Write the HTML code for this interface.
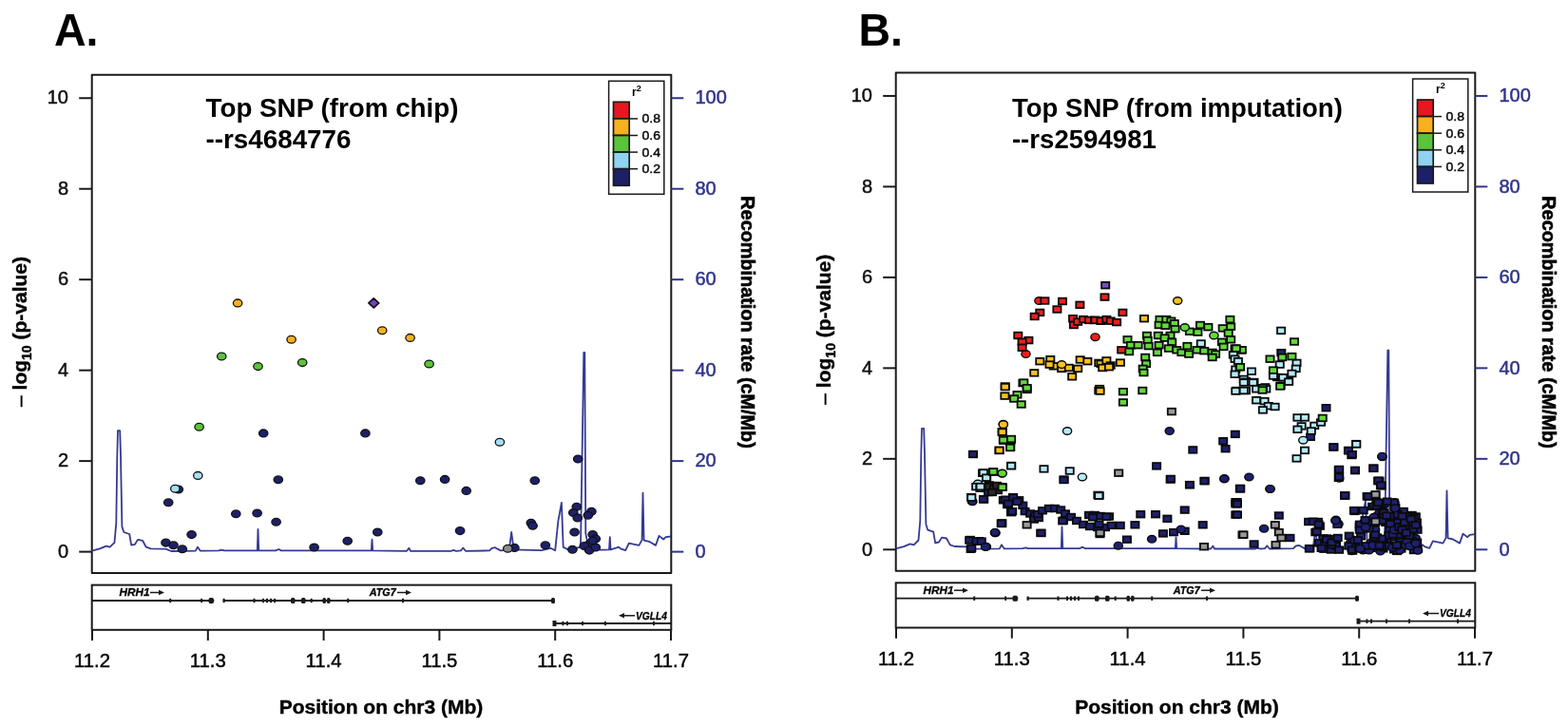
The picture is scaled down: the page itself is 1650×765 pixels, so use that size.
<!DOCTYPE html>
<html><head><meta charset="utf-8"><title>LocusZoom plots</title>
<style>
html,body{margin:0;padding:0;background:#fff;}
body{width:1650px;height:765px;overflow:hidden;}
svg{display:block;font-family:"Liberation Sans", Arial, sans-serif;}
</style></head>
<body>
<svg width="1650" height="765" viewBox="0 0 1650 765">
<rect width="1650" height="765" fill="#fff"/>
<text x="57.0" y="47.8" font-size="48.3" font-weight="bold" textLength="46.5" lengthAdjust="spacingAndGlyphs">A.</text>
<rect x="96.7" y="78.8" width="609.5999999999999" height="524.2" fill="none" stroke="#1a1a1a" stroke-width="2" stroke-linejoin="round"/>
<line x1="83.2" y1="580.6" x2="96.7" y2="580.6" stroke="#1a1a1a" stroke-width="2"/>
<text x="72.0" y="586.8000000000001" font-size="20" text-anchor="end" fill="#111" stroke="#111" stroke-width="0.5">0</text>
<line x1="83.2" y1="485.13" x2="96.7" y2="485.13" stroke="#1a1a1a" stroke-width="2"/>
<text x="72.0" y="491.33" font-size="20" text-anchor="end" fill="#111" stroke="#111" stroke-width="0.5">2</text>
<line x1="83.2" y1="389.66" x2="96.7" y2="389.66" stroke="#1a1a1a" stroke-width="2"/>
<text x="72.0" y="395.86" font-size="20" text-anchor="end" fill="#111" stroke="#111" stroke-width="0.5">4</text>
<line x1="83.2" y1="294.19000000000005" x2="96.7" y2="294.19000000000005" stroke="#1a1a1a" stroke-width="2"/>
<text x="72.0" y="300.39000000000004" font-size="20" text-anchor="end" fill="#111" stroke="#111" stroke-width="0.5">6</text>
<line x1="83.2" y1="198.72000000000003" x2="96.7" y2="198.72000000000003" stroke="#1a1a1a" stroke-width="2"/>
<text x="72.0" y="204.92000000000002" font-size="20" text-anchor="end" fill="#111" stroke="#111" stroke-width="0.5">8</text>
<line x1="83.2" y1="103.25" x2="96.7" y2="103.25" stroke="#1a1a1a" stroke-width="2"/>
<text x="72.0" y="109.45" font-size="20" text-anchor="end" fill="#111" stroke="#111" stroke-width="0.5">10</text>
<line x1="706.3" y1="580.6" x2="719.3" y2="580.6" stroke="#30348a" stroke-width="2"/>
<text x="731.5" y="586.8000000000001" font-size="20" fill="#30348a" stroke="#30348a" stroke-width="0.5">0</text>
<line x1="706.3" y1="485.13" x2="719.3" y2="485.13" stroke="#30348a" stroke-width="2"/>
<text x="731.5" y="491.33" font-size="20" fill="#30348a" stroke="#30348a" stroke-width="0.5">20</text>
<line x1="706.3" y1="389.66" x2="719.3" y2="389.66" stroke="#30348a" stroke-width="2"/>
<text x="731.5" y="395.86" font-size="20" fill="#30348a" stroke="#30348a" stroke-width="0.5">40</text>
<line x1="706.3" y1="294.19000000000005" x2="719.3" y2="294.19000000000005" stroke="#30348a" stroke-width="2"/>
<text x="731.5" y="300.39000000000004" font-size="20" fill="#30348a" stroke="#30348a" stroke-width="0.5">60</text>
<line x1="706.3" y1="198.72000000000003" x2="719.3" y2="198.72000000000003" stroke="#30348a" stroke-width="2"/>
<text x="731.5" y="204.92000000000002" font-size="20" fill="#30348a" stroke="#30348a" stroke-width="0.5">80</text>
<line x1="706.3" y1="103.25" x2="719.3" y2="103.25" stroke="#30348a" stroke-width="2"/>
<text x="731.5" y="109.45" font-size="20" fill="#30348a" stroke="#30348a" stroke-width="0.5">100</text>
<text x="216.5" y="122.7" font-size="27.5" font-weight="bold" textLength="266" lengthAdjust="spacingAndGlyphs">Top SNP (from chip)</text>
<text x="216.5" y="155.5" font-size="27.5" font-weight="bold" textLength="153" lengthAdjust="spacingAndGlyphs">--rs4684776</text>
<rect x="640.6" y="85.3" width="58.19999999999993" height="119.00000000000001" fill="#fff" stroke="#1a1a1a" stroke-width="1.5"/>
<text x="665" y="100.5" font-size="12" font-weight="bold">r<tspan font-size="9" dy="-5">2</tspan></text>
<rect x="645.5" y="107.3" width="16.7" height="17.6" fill="#e8161e" stroke="#1a1a1a" stroke-width="1.7"/>
<rect x="645.5" y="124.9" width="16.7" height="17.6" fill="#f8b020" stroke="#1a1a1a" stroke-width="1.7"/>
<rect x="645.5" y="142.5" width="16.7" height="17.6" fill="#5ac43a" stroke="#1a1a1a" stroke-width="1.7"/>
<rect x="645.5" y="160.1" width="16.7" height="17.6" fill="#8fd3f2" stroke="#1a1a1a" stroke-width="1.7"/>
<rect x="645.5" y="177.7" width="16.7" height="17.6" fill="#1c2068" stroke="#1a1a1a" stroke-width="1.7"/>
<line x1="662.2" y1="124.9" x2="671" y2="124.9" stroke="#1a1a1a" stroke-width="1.5"/>
<text x="675.5" y="129.4" font-size="12.5" textLength="19.5" lengthAdjust="spacingAndGlyphs" stroke="#111" stroke-width="0.45">0.8</text>
<line x1="662.2" y1="142.5" x2="671" y2="142.5" stroke="#1a1a1a" stroke-width="1.5"/>
<text x="675.5" y="147.0" font-size="12.5" textLength="19.5" lengthAdjust="spacingAndGlyphs" stroke="#111" stroke-width="0.45">0.6</text>
<line x1="662.2" y1="160.1" x2="671" y2="160.1" stroke="#1a1a1a" stroke-width="1.5"/>
<text x="675.5" y="164.6" font-size="12.5" textLength="19.5" lengthAdjust="spacingAndGlyphs" stroke="#111" stroke-width="0.45">0.4</text>
<line x1="662.2" y1="177.7" x2="671" y2="177.7" stroke="#1a1a1a" stroke-width="1.5"/>
<text x="675.5" y="182.2" font-size="12.5" textLength="19.5" lengthAdjust="spacingAndGlyphs" stroke="#111" stroke-width="0.45">0.2</text>
<text transform="translate(27.5,349) rotate(-90)" text-anchor="middle" font-size="21" font-weight="bold" stroke="#000" stroke-width="0.4"><tspan font-weight="normal">– </tspan>log<tspan font-size="14" dy="5">10</tspan><tspan dy="-5"> (p-value)</tspan></text>
<text transform="translate(779.5,206.3) rotate(90)" font-size="20" font-weight="bold" stroke="#000" stroke-width="0.6" textLength="265.5" lengthAdjust="spacingAndGlyphs">Recombination rate (cM/Mb)</text>
<line x1="97.0" y1="662.8" x2="97.0" y2="674" stroke="#1a1a1a" stroke-width="2"/>
<text x="78.0" y="702" font-size="20" textLength="38" lengthAdjust="spacingAndGlyphs" stroke="#111" stroke-width="0.5">11.2</text>
<line x1="218.79999999999956" y1="662.8" x2="218.79999999999956" y2="674" stroke="#1a1a1a" stroke-width="2"/>
<text x="199.79999999999956" y="702" font-size="20" textLength="38" lengthAdjust="spacingAndGlyphs" stroke="#111" stroke-width="0.5">11.3</text>
<line x1="340.5999999999991" y1="662.8" x2="340.5999999999991" y2="674" stroke="#1a1a1a" stroke-width="2"/>
<text x="321.5999999999991" y="702" font-size="20" textLength="38" lengthAdjust="spacingAndGlyphs" stroke="#111" stroke-width="0.5">11.4</text>
<line x1="462.4000000000009" y1="662.8" x2="462.4000000000009" y2="674" stroke="#1a1a1a" stroke-width="2"/>
<text x="443.4000000000009" y="702" font-size="20" textLength="38" lengthAdjust="spacingAndGlyphs" stroke="#111" stroke-width="0.5">11.5</text>
<line x1="584.2000000000005" y1="662.8" x2="584.2000000000005" y2="674" stroke="#1a1a1a" stroke-width="2"/>
<text x="565.2000000000005" y="702" font-size="20" textLength="38" lengthAdjust="spacingAndGlyphs" stroke="#111" stroke-width="0.5">11.6</text>
<line x1="706.0" y1="662.8" x2="706.0" y2="674" stroke="#1a1a1a" stroke-width="2"/>
<text x="687.0" y="702" font-size="20" textLength="38" lengthAdjust="spacingAndGlyphs" stroke="#111" stroke-width="0.5">11.7</text>
<text x="401" y="750.5" font-size="21" font-weight="bold" stroke="#000" stroke-width="0.4" text-anchor="middle">Position on chr3 (Mb)</text>
<rect x="96.7" y="615.6" width="609.5999999999999" height="47.19999999999993" fill="none" stroke="#1a1a1a" stroke-width="2"/>
<line x1="96.7" y1="632" x2="225.3" y2="632" stroke="#1a1a1a" stroke-width="1.8"/>
<line x1="234.7" y1="632" x2="582" y2="632" stroke="#1a1a1a" stroke-width="1.8"/>
<rect x="178.2" y="629.8" width="2" height="4.4" fill="#1a1a1a"/>
<rect x="211.1" y="629.8" width="2" height="4.4" fill="#1a1a1a"/>
<rect x="234.6" y="629.8" width="2" height="4.4" fill="#1a1a1a"/>
<rect x="266.5" y="629.8" width="2" height="4.4" fill="#1a1a1a"/>
<rect x="276" y="629.8" width="2" height="4.4" fill="#1a1a1a"/>
<rect x="280" y="629.8" width="2" height="4.4" fill="#1a1a1a"/>
<rect x="284" y="629.8" width="2" height="4.4" fill="#1a1a1a"/>
<rect x="288" y="629.8" width="2" height="4.4" fill="#1a1a1a"/>
<rect x="326.7" y="629.8" width="2" height="4.4" fill="#1a1a1a"/>
<rect x="365.2" y="629.8" width="2" height="4.4" fill="#1a1a1a"/>
<rect x="423" y="629.8" width="2" height="4.4" fill="#1a1a1a"/>
<rect x="219.6" y="629" width="5.3" height="6" rx="1.5" fill="#1a1a1a"/>
<rect x="306" y="629" width="4.5" height="6" rx="1.5" fill="#1a1a1a"/>
<rect x="317" y="629" width="4.5" height="6" rx="1.5" fill="#1a1a1a"/>
<rect x="339.5" y="629" width="3.5" height="6" rx="1.5" fill="#1a1a1a"/>
<rect x="344" y="629" width="3.5" height="6" rx="1.5" fill="#1a1a1a"/>
<rect x="580" y="629" width="4" height="6" rx="1.5" fill="#1a1a1a"/>
<line x1="582" y1="656" x2="706.3" y2="656" stroke="#1a1a1a" stroke-width="1.8"/>
<rect x="581.5" y="653" width="4" height="6" fill="#1a1a1a"/>
<rect x="591.4" y="653.8" width="2" height="4.4" fill="#1a1a1a"/>
<rect x="596" y="653.8" width="2" height="4.4" fill="#1a1a1a"/>
<rect x="612" y="653.8" width="2" height="4.4" fill="#1a1a1a"/>
<rect x="636" y="653.8" width="2" height="4.4" fill="#1a1a1a"/>
<rect x="687" y="653.8" width="2" height="4.4" fill="#1a1a1a"/>
<text x="125.5" y="627.3" font-size="10" font-weight="bold" font-style="italic" stroke="#111" stroke-width="0.3" textLength="32" lengthAdjust="spacingAndGlyphs">HRH1</text>
<path d="M158,623.5 h11" stroke="#1a1a1a" stroke-width="1.5"/><path d="M167,620.8 l6,2.7 l-6,2.7z" fill="#1a1a1a"/>
<text x="388.7" y="627.3" font-size="10" font-weight="bold" font-style="italic" stroke="#111" stroke-width="0.3" textLength="28" lengthAdjust="spacingAndGlyphs">ATG7</text>
<path d="M418,623.5 h11" stroke="#1a1a1a" stroke-width="1.5"/><path d="M427,620.8 l6,2.7 l-6,2.7z" fill="#1a1a1a"/>
<path d="M657,647.8 h11" stroke="#1a1a1a" stroke-width="1.5"/><path d="M657,645.1 l-6,2.7 l6,2.7z" fill="#1a1a1a"/>
<text x="669" y="651.5" font-size="10" font-weight="bold" font-style="italic" stroke="#111" stroke-width="0.3" textLength="33" lengthAdjust="spacingAndGlyphs">VGLL4</text>
<path d="M96.5,579.2 L105.0,577.0 L111.7,574.3 L115.6,575.3 L120.5,570.4 L122.3,549.8 L123.3,480.0 L124.0,452.7 L126.2,452.7 L127.0,479.0 L128.4,553.7 L130.3,559.6 L136.2,561.6 L138.2,573.3 L142.0,572.4 L145.0,567.5 L150.0,568.4 L153.8,575.3 L158.7,576.9 L174.4,577.3 L180.3,579.6 L205.8,579.2 L207.9,575.2 L210.7,579.2 L230.0,579.0 L233.3,578.2 L236.0,579.0 L270.8,579.0 L271.5,556.4 L272.3,579.0 L290.0,579.0 L293.3,577.6 L296.0,579.0 L390.8,579.0 L391.5,567.3 L392.2,579.0 L428.0,579.4 L430.3,576.4 L432.0,579.4 L475.0,579.4 L477.0,578.5 L480.0,579.4 L485.0,579.0 L487.3,576.1 L490.0,579.4 L515.0,579.0 L517.6,576.4 L521.2,575.8 L524.0,577.5 L527.0,579.0 L535.8,578.0 L538.2,559.4 L540.6,578.0 L569.7,578.8 L579.4,576.4 L584.2,578.8 L587.3,548.5 L590.9,528.5 L592.7,575.2 L597.0,577.6 L605.0,577.0 L611.0,575.0 L614.3,370.5 L615.3,370.5 L616.3,561.0 L618.5,572.0 L622.0,577.0 L632.4,578.2 L641.0,578.0 L641.8,564.7 L642.6,578.0 L651.2,575.3 L653.0,577.0 L658.2,578.8 L661.8,571.2 L672.4,573.5 L675.5,568.0 L676.5,518.2 L677.6,568.2 L683.0,569.4 L690.0,573.5 L693.5,563.5 L698.2,567.1 L700.6,564.7 L706.0,564.1" transform="translate(0,0.4)" fill="none" stroke="#343a92" stroke-width="1.8" stroke-linejoin="round"/>
<ellipse cx="250.1" cy="318.9" rx="4.7" ry="3.9" fill="#f8b020" stroke="#111" stroke-width="1.3"/>
<ellipse cx="306.6" cy="357.2" rx="4.7" ry="3.9" fill="#f8b020" stroke="#111" stroke-width="1.3"/>
<ellipse cx="402.2" cy="347.8" rx="4.7" ry="3.9" fill="#f8b020" stroke="#111" stroke-width="1.3"/>
<ellipse cx="431.6" cy="355.4" rx="4.7" ry="3.9" fill="#f8b020" stroke="#111" stroke-width="1.3"/>
<ellipse cx="233.2" cy="375.0" rx="4.7" ry="3.9" fill="#5ac43a" stroke="#111" stroke-width="1.3"/>
<ellipse cx="271.5" cy="385.6" rx="4.7" ry="3.9" fill="#5ac43a" stroke="#111" stroke-width="1.3"/>
<ellipse cx="318.2" cy="381.6" rx="4.7" ry="3.9" fill="#5ac43a" stroke="#111" stroke-width="1.3"/>
<ellipse cx="451.6" cy="383.0" rx="4.7" ry="3.9" fill="#5ac43a" stroke="#111" stroke-width="1.3"/>
<ellipse cx="209.6" cy="449.2" rx="4.7" ry="3.9" fill="#5ac43a" stroke="#111" stroke-width="1.3"/>
<ellipse cx="208.3" cy="500.4" rx="4.7" ry="3.9" fill="#a4e0f4" stroke="#111" stroke-width="1.3"/>
<ellipse cx="525.9" cy="465.2" rx="4.7" ry="3.9" fill="#a4e0f4" stroke="#111" stroke-width="1.3"/>
<ellipse cx="277.2" cy="455.9" rx="4.7" ry="3.9" fill="#1c2068" stroke="#111" stroke-width="1.3"/>
<ellipse cx="384.4" cy="455.9" rx="4.7" ry="3.9" fill="#1c2068" stroke="#111" stroke-width="1.3"/>
<ellipse cx="292.8" cy="504.8" rx="4.7" ry="3.9" fill="#1c2068" stroke="#111" stroke-width="1.3"/>
<ellipse cx="187.8" cy="515.0" rx="4.7" ry="3.9" fill="#1c2068" stroke="#111" stroke-width="1.3"/>
<ellipse cx="177.2" cy="528.8" rx="4.7" ry="3.9" fill="#1c2068" stroke="#111" stroke-width="1.3"/>
<ellipse cx="248.3" cy="540.8" rx="4.7" ry="3.9" fill="#1c2068" stroke="#111" stroke-width="1.3"/>
<ellipse cx="270.6" cy="540.0" rx="4.7" ry="3.9" fill="#1c2068" stroke="#111" stroke-width="1.3"/>
<ellipse cx="290.6" cy="549.3" rx="4.7" ry="3.9" fill="#1c2068" stroke="#111" stroke-width="1.3"/>
<ellipse cx="201.6" cy="562.6" rx="4.7" ry="3.9" fill="#1c2068" stroke="#111" stroke-width="1.3"/>
<ellipse cx="397.3" cy="560.0" rx="4.7" ry="3.9" fill="#1c2068" stroke="#111" stroke-width="1.3"/>
<ellipse cx="174.5" cy="571.1" rx="4.7" ry="3.9" fill="#1c2068" stroke="#111" stroke-width="1.3"/>
<ellipse cx="182.5" cy="573.8" rx="4.7" ry="3.9" fill="#1c2068" stroke="#111" stroke-width="1.3"/>
<ellipse cx="191.8" cy="577.8" rx="4.7" ry="3.9" fill="#1c2068" stroke="#111" stroke-width="1.3"/>
<ellipse cx="330.6" cy="576.0" rx="4.7" ry="3.9" fill="#1c2068" stroke="#111" stroke-width="1.3"/>
<ellipse cx="365.7" cy="569.3" rx="4.7" ry="3.9" fill="#1c2068" stroke="#111" stroke-width="1.3"/>
<ellipse cx="608.2" cy="483.0" rx="4.7" ry="3.9" fill="#1c2068" stroke="#111" stroke-width="1.3"/>
<ellipse cx="442.3" cy="505.7" rx="4.7" ry="3.9" fill="#1c2068" stroke="#111" stroke-width="1.3"/>
<ellipse cx="468.1" cy="504.4" rx="4.7" ry="3.9" fill="#1c2068" stroke="#111" stroke-width="1.3"/>
<ellipse cx="490.7" cy="516.4" rx="4.7" ry="3.9" fill="#1c2068" stroke="#111" stroke-width="1.3"/>
<ellipse cx="562.8" cy="505.7" rx="4.7" ry="3.9" fill="#1c2068" stroke="#111" stroke-width="1.3"/>
<ellipse cx="484.1" cy="558.6" rx="4.7" ry="3.9" fill="#1c2068" stroke="#111" stroke-width="1.3"/>
<ellipse cx="558.8" cy="550.2" rx="4.7" ry="3.9" fill="#1c2068" stroke="#111" stroke-width="1.3"/>
<ellipse cx="560.6" cy="553.3" rx="4.7" ry="3.9" fill="#1c2068" stroke="#111" stroke-width="1.3"/>
<ellipse cx="541.4" cy="576.4" rx="4.7" ry="3.9" fill="#1c2068" stroke="#111" stroke-width="1.3"/>
<ellipse cx="573.9" cy="573.8" rx="4.7" ry="3.9" fill="#1c2068" stroke="#111" stroke-width="1.3"/>
<ellipse cx="606.8" cy="533.3" rx="4.7" ry="3.9" fill="#1c2068" stroke="#111" stroke-width="1.3"/>
<ellipse cx="603.3" cy="539.5" rx="4.7" ry="3.9" fill="#1c2068" stroke="#111" stroke-width="1.3"/>
<ellipse cx="607.7" cy="544.9" rx="4.7" ry="3.9" fill="#1c2068" stroke="#111" stroke-width="1.3"/>
<ellipse cx="622.4" cy="538.2" rx="4.7" ry="3.9" fill="#1c2068" stroke="#111" stroke-width="1.3"/>
<ellipse cx="618.8" cy="542.2" rx="4.7" ry="3.9" fill="#1c2068" stroke="#111" stroke-width="1.3"/>
<ellipse cx="604.6" cy="560.0" rx="4.7" ry="3.9" fill="#1c2068" stroke="#111" stroke-width="1.3"/>
<ellipse cx="623.7" cy="562.6" rx="4.7" ry="3.9" fill="#1c2068" stroke="#111" stroke-width="1.3"/>
<ellipse cx="626.8" cy="567.1" rx="4.7" ry="3.9" fill="#1c2068" stroke="#111" stroke-width="1.3"/>
<ellipse cx="620.2" cy="572.4" rx="4.7" ry="3.9" fill="#1c2068" stroke="#111" stroke-width="1.3"/>
<ellipse cx="614.8" cy="574.6" rx="4.7" ry="3.9" fill="#1c2068" stroke="#111" stroke-width="1.3"/>
<ellipse cx="602.4" cy="578.2" rx="4.7" ry="3.9" fill="#1c2068" stroke="#111" stroke-width="1.3"/>
<ellipse cx="620.2" cy="579.1" rx="4.7" ry="3.9" fill="#1c2068" stroke="#111" stroke-width="1.3"/>
<ellipse cx="626.8" cy="576.0" rx="4.7" ry="3.9" fill="#1c2068" stroke="#111" stroke-width="1.3"/>
<ellipse cx="623.7" cy="568.9" rx="4.7" ry="3.9" fill="#1c2068" stroke="#111" stroke-width="1.3"/>
<ellipse cx="184.3" cy="514.2" rx="4.7" ry="3.9" fill="#a4e0f4" stroke="#111" stroke-width="1.3"/>
<ellipse cx="534.3" cy="577.3" rx="4.7" ry="3.9" fill="#8c8c8c" stroke="#111" stroke-width="1.3"/>
<path d="M387.90000000000003,318.9 L393.3,313.9 L398.7,318.9 L393.3,323.9Z" fill="#7640c4" stroke="#111" stroke-width="1.7" stroke-linejoin="round"/>
<text x="903.4" y="47.8" font-size="48.3" font-weight="bold" textLength="46.5" lengthAdjust="spacingAndGlyphs">B.</text>
<rect x="942.7" y="76.5" width="609.5999999999999" height="524.2" fill="none" stroke="#1a1a1a" stroke-width="2" stroke-linejoin="round"/>
<line x1="929.2" y1="578.3000000000001" x2="942.7" y2="578.3000000000001" stroke="#1a1a1a" stroke-width="2"/>
<text x="918.0" y="584.5000000000001" font-size="20" text-anchor="end" fill="#111" stroke="#111" stroke-width="0.5">0</text>
<line x1="929.2" y1="482.83000000000004" x2="942.7" y2="482.83000000000004" stroke="#1a1a1a" stroke-width="2"/>
<text x="918.0" y="489.03000000000003" font-size="20" text-anchor="end" fill="#111" stroke="#111" stroke-width="0.5">2</text>
<line x1="929.2" y1="387.36000000000007" x2="942.7" y2="387.36000000000007" stroke="#1a1a1a" stroke-width="2"/>
<text x="918.0" y="393.56000000000006" font-size="20" text-anchor="end" fill="#111" stroke="#111" stroke-width="0.5">4</text>
<line x1="929.2" y1="291.8900000000001" x2="942.7" y2="291.8900000000001" stroke="#1a1a1a" stroke-width="2"/>
<text x="918.0" y="298.0900000000001" font-size="20" text-anchor="end" fill="#111" stroke="#111" stroke-width="0.5">6</text>
<line x1="929.2" y1="196.42000000000007" x2="942.7" y2="196.42000000000007" stroke="#1a1a1a" stroke-width="2"/>
<text x="918.0" y="202.62000000000006" font-size="20" text-anchor="end" fill="#111" stroke="#111" stroke-width="0.5">8</text>
<line x1="929.2" y1="100.95000000000005" x2="942.7" y2="100.95000000000005" stroke="#1a1a1a" stroke-width="2"/>
<text x="918.0" y="107.15000000000005" font-size="20" text-anchor="end" fill="#111" stroke="#111" stroke-width="0.5">10</text>
<line x1="1552.3" y1="578.3000000000001" x2="1565.3" y2="578.3000000000001" stroke="#30348a" stroke-width="2"/>
<text x="1577.5" y="584.5000000000001" font-size="20" fill="#30348a" stroke="#30348a" stroke-width="0.5">0</text>
<line x1="1552.3" y1="482.83000000000004" x2="1565.3" y2="482.83000000000004" stroke="#30348a" stroke-width="2"/>
<text x="1577.5" y="489.03000000000003" font-size="20" fill="#30348a" stroke="#30348a" stroke-width="0.5">20</text>
<line x1="1552.3" y1="387.36000000000007" x2="1565.3" y2="387.36000000000007" stroke="#30348a" stroke-width="2"/>
<text x="1577.5" y="393.56000000000006" font-size="20" fill="#30348a" stroke="#30348a" stroke-width="0.5">40</text>
<line x1="1552.3" y1="291.8900000000001" x2="1565.3" y2="291.8900000000001" stroke="#30348a" stroke-width="2"/>
<text x="1577.5" y="298.0900000000001" font-size="20" fill="#30348a" stroke="#30348a" stroke-width="0.5">60</text>
<line x1="1552.3" y1="196.42000000000007" x2="1565.3" y2="196.42000000000007" stroke="#30348a" stroke-width="2"/>
<text x="1577.5" y="202.62000000000006" font-size="20" fill="#30348a" stroke="#30348a" stroke-width="0.5">80</text>
<line x1="1552.3" y1="100.95000000000005" x2="1565.3" y2="100.95000000000005" stroke="#30348a" stroke-width="2"/>
<text x="1577.5" y="107.15000000000005" font-size="20" fill="#30348a" stroke="#30348a" stroke-width="0.5">100</text>
<text x="1064.9" y="122.7" font-size="27.5" font-weight="bold" textLength="348" lengthAdjust="spacingAndGlyphs">Top SNP (from imputation)</text>
<text x="1064.9" y="155.5" font-size="27.5" font-weight="bold" textLength="152" lengthAdjust="spacingAndGlyphs">--rs2594981</text>
<rect x="1486.6" y="83.0" width="58.200000000000045" height="119.0" fill="#fff" stroke="#1a1a1a" stroke-width="1.5"/>
<text x="1511" y="98.2" font-size="12" font-weight="bold">r<tspan font-size="9" dy="-5">2</tspan></text>
<rect x="1491.5" y="105.0" width="16.7" height="17.6" fill="#e8161e" stroke="#1a1a1a" stroke-width="1.7"/>
<rect x="1491.5" y="122.6" width="16.7" height="17.6" fill="#f8b020" stroke="#1a1a1a" stroke-width="1.7"/>
<rect x="1491.5" y="140.2" width="16.7" height="17.6" fill="#5ac43a" stroke="#1a1a1a" stroke-width="1.7"/>
<rect x="1491.5" y="157.8" width="16.7" height="17.6" fill="#8fd3f2" stroke="#1a1a1a" stroke-width="1.7"/>
<rect x="1491.5" y="175.4" width="16.7" height="17.6" fill="#1c2068" stroke="#1a1a1a" stroke-width="1.7"/>
<line x1="1508.2" y1="122.6" x2="1517" y2="122.6" stroke="#1a1a1a" stroke-width="1.5"/>
<text x="1521.5" y="127.1" font-size="12.5" textLength="19.5" lengthAdjust="spacingAndGlyphs" stroke="#111" stroke-width="0.45">0.8</text>
<line x1="1508.2" y1="140.2" x2="1517" y2="140.2" stroke="#1a1a1a" stroke-width="1.5"/>
<text x="1521.5" y="144.7" font-size="12.5" textLength="19.5" lengthAdjust="spacingAndGlyphs" stroke="#111" stroke-width="0.45">0.6</text>
<line x1="1508.2" y1="157.8" x2="1517" y2="157.8" stroke="#1a1a1a" stroke-width="1.5"/>
<text x="1521.5" y="162.3" font-size="12.5" textLength="19.5" lengthAdjust="spacingAndGlyphs" stroke="#111" stroke-width="0.45">0.4</text>
<line x1="1508.2" y1="175.4" x2="1517" y2="175.4" stroke="#1a1a1a" stroke-width="1.5"/>
<text x="1521.5" y="179.9" font-size="12.5" textLength="19.5" lengthAdjust="spacingAndGlyphs" stroke="#111" stroke-width="0.45">0.2</text>
<text transform="translate(873.5,346.7) rotate(-90)" text-anchor="middle" font-size="21" font-weight="bold" stroke="#000" stroke-width="0.4"><tspan font-weight="normal">– </tspan>log<tspan font-size="14" dy="5">10</tspan><tspan dy="-5"> (p-value)</tspan></text>
<text transform="translate(1622.5,206.3) rotate(90)" font-size="20" font-weight="bold" stroke="#000" stroke-width="0.6" textLength="265.5" lengthAdjust="spacingAndGlyphs">Recombination rate (cM/Mb)</text>
<line x1="943.0" y1="660.5" x2="943.0" y2="671.7" stroke="#1a1a1a" stroke-width="2"/>
<text x="924.0" y="699.7" font-size="20" textLength="38" lengthAdjust="spacingAndGlyphs" stroke="#111" stroke-width="0.5">11.2</text>
<line x1="1064.7999999999995" y1="660.5" x2="1064.7999999999995" y2="671.7" stroke="#1a1a1a" stroke-width="2"/>
<text x="1045.7999999999995" y="699.7" font-size="20" textLength="38" lengthAdjust="spacingAndGlyphs" stroke="#111" stroke-width="0.5">11.3</text>
<line x1="1186.5999999999992" y1="660.5" x2="1186.5999999999992" y2="671.7" stroke="#1a1a1a" stroke-width="2"/>
<text x="1167.5999999999992" y="699.7" font-size="20" textLength="38" lengthAdjust="spacingAndGlyphs" stroke="#111" stroke-width="0.5">11.4</text>
<line x1="1308.400000000001" y1="660.5" x2="1308.400000000001" y2="671.7" stroke="#1a1a1a" stroke-width="2"/>
<text x="1289.400000000001" y="699.7" font-size="20" textLength="38" lengthAdjust="spacingAndGlyphs" stroke="#111" stroke-width="0.5">11.5</text>
<line x1="1430.2000000000005" y1="660.5" x2="1430.2000000000005" y2="671.7" stroke="#1a1a1a" stroke-width="2"/>
<text x="1411.2000000000005" y="699.7" font-size="20" textLength="38" lengthAdjust="spacingAndGlyphs" stroke="#111" stroke-width="0.5">11.6</text>
<line x1="1552.0" y1="660.5" x2="1552.0" y2="671.7" stroke="#1a1a1a" stroke-width="2"/>
<text x="1533.0" y="699.7" font-size="20" textLength="38" lengthAdjust="spacingAndGlyphs" stroke="#111" stroke-width="0.5">11.7</text>
<text x="1238.5" y="750.5" font-size="21" font-weight="bold" stroke="#000" stroke-width="0.4" text-anchor="middle">Position on chr3 (Mb)</text>
<rect x="942.7" y="613.3000000000001" width="609.5999999999999" height="47.19999999999993" fill="none" stroke="#1a1a1a" stroke-width="2"/>
<line x1="942.7" y1="629.7" x2="1071.3" y2="629.7" stroke="#1a1a1a" stroke-width="1.8"/>
<line x1="1080.7" y1="629.7" x2="1428" y2="629.7" stroke="#1a1a1a" stroke-width="1.8"/>
<rect x="1024.2" y="627.5" width="2" height="4.4" fill="#1a1a1a"/>
<rect x="1057.1" y="627.5" width="2" height="4.4" fill="#1a1a1a"/>
<rect x="1080.6" y="627.5" width="2" height="4.4" fill="#1a1a1a"/>
<rect x="1112.5" y="627.5" width="2" height="4.4" fill="#1a1a1a"/>
<rect x="1122" y="627.5" width="2" height="4.4" fill="#1a1a1a"/>
<rect x="1126" y="627.5" width="2" height="4.4" fill="#1a1a1a"/>
<rect x="1130" y="627.5" width="2" height="4.4" fill="#1a1a1a"/>
<rect x="1134" y="627.5" width="2" height="4.4" fill="#1a1a1a"/>
<rect x="1172.7" y="627.5" width="2" height="4.4" fill="#1a1a1a"/>
<rect x="1211.2" y="627.5" width="2" height="4.4" fill="#1a1a1a"/>
<rect x="1269" y="627.5" width="2" height="4.4" fill="#1a1a1a"/>
<rect x="1065.6" y="626.7" width="5.3" height="6" rx="1.5" fill="#1a1a1a"/>
<rect x="1152" y="626.7" width="4.5" height="6" rx="1.5" fill="#1a1a1a"/>
<rect x="1163" y="626.7" width="4.5" height="6" rx="1.5" fill="#1a1a1a"/>
<rect x="1185.5" y="626.7" width="3.5" height="6" rx="1.5" fill="#1a1a1a"/>
<rect x="1190" y="626.7" width="3.5" height="6" rx="1.5" fill="#1a1a1a"/>
<rect x="1426" y="626.7" width="4" height="6" rx="1.5" fill="#1a1a1a"/>
<line x1="1428" y1="653.7" x2="1552.3" y2="653.7" stroke="#1a1a1a" stroke-width="1.8"/>
<rect x="1427.5" y="650.7" width="4" height="6" fill="#1a1a1a"/>
<rect x="1437.4" y="651.5" width="2" height="4.4" fill="#1a1a1a"/>
<rect x="1442" y="651.5" width="2" height="4.4" fill="#1a1a1a"/>
<rect x="1458" y="651.5" width="2" height="4.4" fill="#1a1a1a"/>
<rect x="1482" y="651.5" width="2" height="4.4" fill="#1a1a1a"/>
<rect x="1533" y="651.5" width="2" height="4.4" fill="#1a1a1a"/>
<text x="971.5" y="625.0" font-size="10" font-weight="bold" font-style="italic" stroke="#111" stroke-width="0.3" textLength="32" lengthAdjust="spacingAndGlyphs">HRH1</text>
<path d="M1004,621.2 h11" stroke="#1a1a1a" stroke-width="1.5"/><path d="M1013,618.5 l6,2.7 l-6,2.7z" fill="#1a1a1a"/>
<text x="1234.7" y="625.0" font-size="10" font-weight="bold" font-style="italic" stroke="#111" stroke-width="0.3" textLength="28" lengthAdjust="spacingAndGlyphs">ATG7</text>
<path d="M1264,621.2 h11" stroke="#1a1a1a" stroke-width="1.5"/><path d="M1273,618.5 l6,2.7 l-6,2.7z" fill="#1a1a1a"/>
<path d="M1503,645.5 h11" stroke="#1a1a1a" stroke-width="1.5"/><path d="M1503,642.8000000000001 l-6,2.7 l6,2.7z" fill="#1a1a1a"/>
<text x="1515" y="649.2" font-size="10" font-weight="bold" font-style="italic" stroke="#111" stroke-width="0.3" textLength="33" lengthAdjust="spacingAndGlyphs">VGLL4</text>
<path d="M942.5,576.9 L951.0,574.7 L957.7,572.0 L961.6,573.0 L966.5,568.1 L968.3,547.5 L969.3,477.7 L970.0,450.4 L972.2,450.4 L973.0,476.7 L974.4,551.4 L976.3,557.3 L982.2,559.3 L984.2,571.0 L988.0,570.1 L991.0,565.2 L996.0,566.1 L999.8,573.0 L1004.7,574.6 L1020.4,575.0 L1026.3,577.3 L1051.8,576.9 L1053.9,572.9 L1056.7,576.9 L1076.0,576.7 L1079.3,575.9 L1082.0,576.7 L1116.8,576.7 L1117.5,554.1 L1118.3,576.7 L1136.0,576.7 L1139.3,575.3 L1142.0,576.7 L1236.8,576.7 L1237.5,565.0 L1238.2,576.7 L1274.0,577.1 L1276.3,574.1 L1278.0,577.1 L1321.0,577.1 L1323.0,576.2 L1326.0,577.1 L1331.0,576.7 L1333.3,573.8 L1336.0,577.1 L1361.0,576.7 L1363.6,574.1 L1367.2,573.5 L1370.0,575.2 L1373.0,576.7 L1381.8,575.7 L1384.2,557.1 L1386.6,575.7 L1415.7,576.5 L1425.4,574.1 L1430.2,576.5 L1433.3,546.2 L1436.9,526.2 L1438.7,572.9 L1443.0,575.3 L1451.0,574.7 L1457.0,572.7 L1460.3,368.2 L1461.3,368.2 L1462.3,558.7 L1464.5,569.7 L1468.0,574.7 L1478.4,575.9 L1487.0,575.7 L1487.8,562.4 L1488.6,575.7 L1497.2,573.0 L1499.0,574.7 L1504.2,576.5 L1507.8,568.9 L1518.4,571.2 L1521.5,565.7 L1522.5,515.9 L1523.6,565.9 L1529.0,567.1 L1536.0,571.2 L1539.5,561.2 L1544.2,564.8 L1546.6,562.4 L1552.0,561.8" transform="translate(0,0.4)" fill="none" stroke="#343a92" stroke-width="1.8" stroke-linejoin="round"/>
<rect x="1031.2" y="522.2" width="8.2" height="6.6" fill="#1e2070" stroke="#0a0a0a" stroke-width="1.8"/>
<rect x="1060.0" y="535.9" width="8.2" height="6.6" fill="#1e2070" stroke="#0a0a0a" stroke-width="1.8"/>
<rect x="1050.1" y="547.7" width="8.2" height="6.6" fill="#1e2070" stroke="#0a0a0a" stroke-width="1.8"/>
<rect x="1091.3" y="557.5" width="8.2" height="6.6" fill="#1e2070" stroke="#0a0a0a" stroke-width="1.8"/>
<rect x="1114.9" y="544.4" width="8.2" height="6.6" fill="#1e2070" stroke="#0a0a0a" stroke-width="1.8"/>
<rect x="1115.5" y="501.3" width="8.2" height="6.6" fill="#1e2070" stroke="#0a0a0a" stroke-width="1.8"/>
<rect x="1016.8" y="564.7" width="8.2" height="6.6" fill="#1e2070" stroke="#0a0a0a" stroke-width="1.8"/>
<rect x="1026.0" y="566.0" width="8.2" height="6.6" fill="#1e2070" stroke="#0a0a0a" stroke-width="1.8"/>
<rect x="1017.5" y="574.5" width="8.2" height="6.6" fill="#1e2070" stroke="#0a0a0a" stroke-width="1.8"/>
<ellipse cx="1022.9" cy="527.5" rx="4.6" ry="3.8" fill="#1e2070" stroke="#0a0a0a" stroke-width="1.4"/>
<ellipse cx="1047.1" cy="560.8" rx="4.6" ry="3.8" fill="#1e2070" stroke="#0a0a0a" stroke-width="1.4"/>
<ellipse cx="1037.9" cy="575.2" rx="4.6" ry="3.8" fill="#1e2070" stroke="#0a0a0a" stroke-width="1.4"/>
<rect x="1051.7" y="523.0" width="8.2" height="6.6" fill="#1e2070" stroke="#0a0a0a" stroke-width="1.8"/>
<rect x="1055.9" y="527.7" width="8.2" height="6.6" fill="#1e2070" stroke="#0a0a0a" stroke-width="1.8"/>
<rect x="1061.9" y="519.8" width="8.2" height="6.6" fill="#1e2070" stroke="#0a0a0a" stroke-width="1.8"/>
<rect x="1068.2" y="523.0" width="8.2" height="6.6" fill="#1e2070" stroke="#0a0a0a" stroke-width="1.8"/>
<rect x="1072.2" y="528.5" width="8.2" height="6.6" fill="#1e2070" stroke="#0a0a0a" stroke-width="1.8"/>
<rect x="1074.5" y="534.8" width="8.2" height="6.6" fill="#1e2070" stroke="#0a0a0a" stroke-width="1.8"/>
<rect x="1080.0" y="537.2" width="8.2" height="6.6" fill="#1e2070" stroke="#0a0a0a" stroke-width="1.8"/>
<rect x="1084.9" y="539.5" width="8.2" height="6.6" fill="#1e2070" stroke="#0a0a0a" stroke-width="1.8"/>
<rect x="1083.9" y="543.2" width="8.2" height="6.6" fill="#1e2070" stroke="#0a0a0a" stroke-width="1.8"/>
<rect x="1088.9" y="541.7" width="8.2" height="6.6" fill="#1e2070" stroke="#0a0a0a" stroke-width="1.8"/>
<rect x="1087.9" y="537.7" width="8.2" height="6.6" fill="#1e2070" stroke="#0a0a0a" stroke-width="1.8"/>
<rect x="1092.9" y="534.0" width="8.2" height="6.6" fill="#1e2070" stroke="#0a0a0a" stroke-width="1.8"/>
<rect x="1099.7" y="531.7" width="8.2" height="6.6" fill="#1e2070" stroke="#0a0a0a" stroke-width="1.8"/>
<rect x="1105.9" y="531.7" width="8.2" height="6.6" fill="#1e2070" stroke="#0a0a0a" stroke-width="1.8"/>
<rect x="1112.1" y="533.2" width="8.2" height="6.6" fill="#1e2070" stroke="#0a0a0a" stroke-width="1.8"/>
<rect x="1116.9" y="537.2" width="8.2" height="6.6" fill="#1e2070" stroke="#0a0a0a" stroke-width="1.8"/>
<rect x="1122.9" y="540.7" width="8.2" height="6.6" fill="#1e2070" stroke="#0a0a0a" stroke-width="1.8"/>
<rect x="1128.9" y="544.7" width="8.2" height="6.6" fill="#1e2070" stroke="#0a0a0a" stroke-width="1.8"/>
<rect x="1135.9" y="548.7" width="8.2" height="6.6" fill="#1e2070" stroke="#0a0a0a" stroke-width="1.8"/>
<rect x="1142.9" y="550.7" width="8.2" height="6.6" fill="#1e2070" stroke="#0a0a0a" stroke-width="1.8"/>
<rect x="1150.9" y="551.7" width="8.2" height="6.6" fill="#1e2070" stroke="#0a0a0a" stroke-width="1.8"/>
<rect x="1158.9" y="551.7" width="8.2" height="6.6" fill="#1e2070" stroke="#0a0a0a" stroke-width="1.8"/>
<rect x="1141.9" y="538.7" width="8.2" height="6.6" fill="#1e2070" stroke="#0a0a0a" stroke-width="1.8"/>
<rect x="1147.9" y="538.7" width="8.2" height="6.6" fill="#1e2070" stroke="#0a0a0a" stroke-width="1.8"/>
<rect x="1153.9" y="539.7" width="8.2" height="6.6" fill="#1e2070" stroke="#0a0a0a" stroke-width="1.8"/>
<rect x="1162.9" y="540.2" width="8.2" height="6.6" fill="#1e2070" stroke="#0a0a0a" stroke-width="1.8"/>
<rect x="1059.8" y="535.2" width="8.2" height="6.6" fill="#1e2070" stroke="#0a0a0a" stroke-width="1.8"/>
<rect x="1050.2" y="547.1" width="8.2" height="6.6" fill="#1e2070" stroke="#0a0a0a" stroke-width="1.8"/>
<rect x="1091.4" y="557.7" width="8.2" height="6.6" fill="#1e2070" stroke="#0a0a0a" stroke-width="1.8"/>
<rect x="1114.1" y="544.9" width="8.2" height="6.6" fill="#1e2070" stroke="#0a0a0a" stroke-width="1.8"/>
<rect x="1115.4" y="501.7" width="8.2" height="6.6" fill="#1e2070" stroke="#0a0a0a" stroke-width="1.8"/>
<rect x="1016.1" y="565.2" width="8.2" height="6.6" fill="#1e2070" stroke="#0a0a0a" stroke-width="1.8"/>
<rect x="1023.4" y="566.3" width="8.2" height="6.6" fill="#1e2070" stroke="#0a0a0a" stroke-width="1.8"/>
<rect x="1028.7" y="566.3" width="8.2" height="6.6" fill="#1e2070" stroke="#0a0a0a" stroke-width="1.8"/>
<rect x="1018.2" y="573.6" width="8.2" height="6.6" fill="#1e2070" stroke="#0a0a0a" stroke-width="1.8"/>
<rect x="1019.9" y="474.7" width="8.2" height="6.6" fill="#1e2070" stroke="#0a0a0a" stroke-width="1.8"/>
<rect x="1030.8" y="522.0" width="8.2" height="6.6" fill="#1e2070" stroke="#0a0a0a" stroke-width="1.8"/>
<rect x="1053.8" y="522.4" width="8.2" height="6.6" fill="#1e2070" stroke="#0a0a0a" stroke-width="1.8"/>
<rect x="1062.1" y="520.3" width="8.2" height="6.6" fill="#1e2070" stroke="#0a0a0a" stroke-width="1.8"/>
<rect x="1066.3" y="524.5" width="8.2" height="6.6" fill="#1e2070" stroke="#0a0a0a" stroke-width="1.8"/>
<rect x="1061.1" y="534.9" width="8.2" height="6.6" fill="#1e2070" stroke="#0a0a0a" stroke-width="1.8"/>
<rect x="1056.9" y="526.6" width="8.2" height="6.6" fill="#1e2070" stroke="#0a0a0a" stroke-width="1.8"/>
<rect x="1049.6" y="547.5" width="8.2" height="6.6" fill="#1e2070" stroke="#0a0a0a" stroke-width="1.8"/>
<rect x="1038.9" y="508.7" width="8.2" height="6.6" fill="#1e2070" stroke="#0a0a0a" stroke-width="1.8"/>
<rect x="1043.9" y="511.7" width="8.2" height="6.6" fill="#1e2070" stroke="#0a0a0a" stroke-width="1.8"/>
<rect x="1035.9" y="514.7" width="8.2" height="6.6" fill="#1e2070" stroke="#0a0a0a" stroke-width="1.8"/>
<ellipse cx="1047.5" cy="560.7" rx="4.6" ry="3.8" fill="#1e2070" stroke="#0a0a0a" stroke-width="1.4"/>
<ellipse cx="1037.0" cy="575.4" rx="4.6" ry="3.8" fill="#1e2070" stroke="#0a0a0a" stroke-width="1.4"/>
<ellipse cx="1023.4" cy="527.8" rx="4.6" ry="3.8" fill="#1e2070" stroke="#0a0a0a" stroke-width="1.4"/>
<ellipse cx="1047.0" cy="560.2" rx="4.6" ry="3.8" fill="#1e2070" stroke="#0a0a0a" stroke-width="1.4"/>
<rect x="1076.5" y="549.0" width="8.2" height="6.6" fill="#9a9a9a" stroke="#0a0a0a" stroke-width="1.8"/>
<rect x="1153.4" y="558.7" width="8.2" height="6.6" fill="#9a9a9a" stroke="#0a0a0a" stroke-width="1.8"/>
<rect x="1227.6" y="501.3" width="8.2" height="6.6" fill="#1e2070" stroke="#0a0a0a" stroke-width="1.8"/>
<rect x="1247.9" y="506.9" width="8.2" height="6.6" fill="#1e2070" stroke="#0a0a0a" stroke-width="1.8"/>
<rect x="1263.5" y="502.6" width="8.2" height="6.6" fill="#1e2070" stroke="#0a0a0a" stroke-width="1.8"/>
<rect x="1300.8" y="510.8" width="8.2" height="6.6" fill="#1e2070" stroke="#0a0a0a" stroke-width="1.8"/>
<rect x="1296.2" y="527.0" width="8.2" height="6.6" fill="#1e2070" stroke="#0a0a0a" stroke-width="1.8"/>
<rect x="1296.2" y="538.3" width="8.2" height="6.6" fill="#1e2070" stroke="#0a0a0a" stroke-width="1.8"/>
<rect x="1242.6" y="533.3" width="8.2" height="6.6" fill="#1e2070" stroke="#0a0a0a" stroke-width="1.8"/>
<rect x="1196.2" y="537.9" width="8.2" height="6.6" fill="#1e2070" stroke="#0a0a0a" stroke-width="1.8"/>
<rect x="1211.9" y="537.9" width="8.2" height="6.6" fill="#1e2070" stroke="#0a0a0a" stroke-width="1.8"/>
<rect x="1224.3" y="542.5" width="8.2" height="6.6" fill="#1e2070" stroke="#0a0a0a" stroke-width="1.8"/>
<rect x="1190.3" y="549.0" width="8.2" height="6.6" fill="#1e2070" stroke="#0a0a0a" stroke-width="1.8"/>
<rect x="1174.7" y="549.6" width="8.2" height="6.6" fill="#1e2070" stroke="#0a0a0a" stroke-width="1.8"/>
<rect x="1160.3" y="540.5" width="8.2" height="6.6" fill="#1e2070" stroke="#0a0a0a" stroke-width="1.8"/>
<rect x="1152.4" y="548.3" width="8.2" height="6.6" fill="#1e2070" stroke="#0a0a0a" stroke-width="1.8"/>
<rect x="1145.9" y="541.1" width="8.2" height="6.6" fill="#1e2070" stroke="#0a0a0a" stroke-width="1.8"/>
<rect x="1165.5" y="549.6" width="8.2" height="6.6" fill="#1e2070" stroke="#0a0a0a" stroke-width="1.8"/>
<rect x="1219.8" y="558.1" width="8.2" height="6.6" fill="#1e2070" stroke="#0a0a0a" stroke-width="1.8"/>
<rect x="1230.9" y="556.8" width="8.2" height="6.6" fill="#1e2070" stroke="#0a0a0a" stroke-width="1.8"/>
<rect x="1242.6" y="555.5" width="8.2" height="6.6" fill="#1e2070" stroke="#0a0a0a" stroke-width="1.8"/>
<rect x="1261.6" y="549.0" width="8.2" height="6.6" fill="#1e2070" stroke="#0a0a0a" stroke-width="1.8"/>
<rect x="1181.8" y="564.4" width="8.2" height="6.6" fill="#1e2070" stroke="#0a0a0a" stroke-width="1.8"/>
<ellipse cx="1288.3" cy="503.9" rx="4.6" ry="3.8" fill="#1e2070" stroke="#0a0a0a" stroke-width="1.4"/>
<ellipse cx="1242.8" cy="556.9" rx="4.6" ry="3.8" fill="#1e2070" stroke="#0a0a0a" stroke-width="1.4"/>
<ellipse cx="1176.8" cy="574.2" rx="4.6" ry="3.8" fill="#1e2070" stroke="#0a0a0a" stroke-width="1.4"/>
<ellipse cx="1212.1" cy="567.3" rx="4.6" ry="3.8" fill="#1e2070" stroke="#0a0a0a" stroke-width="1.4"/>
<rect x="1153.5" y="557.5" width="8.2" height="6.6" fill="#9a9a9a" stroke="#0a0a0a" stroke-width="1.8"/>
<rect x="1262.9" y="571.9" width="8.2" height="6.6" fill="#9a9a9a" stroke="#0a0a0a" stroke-width="1.8"/>
<rect x="1303.4" y="559.4" width="8.2" height="6.6" fill="#9a9a9a" stroke="#0a0a0a" stroke-width="1.8"/>
<rect x="1295.7" y="453.6" width="8.2" height="6.6" fill="#1e2070" stroke="#0a0a0a" stroke-width="1.8"/>
<rect x="1283.1" y="460.9" width="8.2" height="6.6" fill="#1e2070" stroke="#0a0a0a" stroke-width="1.8"/>
<rect x="1285.5" y="468.9" width="8.2" height="6.6" fill="#1e2070" stroke="#0a0a0a" stroke-width="1.8"/>
<rect x="1251.2" y="470.1" width="8.2" height="6.6" fill="#1e2070" stroke="#0a0a0a" stroke-width="1.8"/>
<rect x="1213.0" y="487.1" width="8.2" height="6.6" fill="#1e2070" stroke="#0a0a0a" stroke-width="1.8"/>
<rect x="1227.8" y="500.6" width="8.2" height="6.6" fill="#1e2070" stroke="#0a0a0a" stroke-width="1.8"/>
<rect x="1247.8" y="506.8" width="8.2" height="6.6" fill="#1e2070" stroke="#0a0a0a" stroke-width="1.8"/>
<rect x="1263.4" y="502.9" width="8.2" height="6.6" fill="#1e2070" stroke="#0a0a0a" stroke-width="1.8"/>
<rect x="1300.8" y="510.8" width="8.2" height="6.6" fill="#1e2070" stroke="#0a0a0a" stroke-width="1.8"/>
<rect x="1296.2" y="524.9" width="8.2" height="6.6" fill="#1e2070" stroke="#0a0a0a" stroke-width="1.8"/>
<ellipse cx="1230.7" cy="453.5" rx="4.6" ry="3.8" fill="#1e2070" stroke="#0a0a0a" stroke-width="1.4"/>
<ellipse cx="1288.4" cy="503.6" rx="4.6" ry="3.8" fill="#1e2070" stroke="#0a0a0a" stroke-width="1.4"/>
<rect x="1228.8" y="429.8" width="8.2" height="6.6" fill="#9a9a9a" stroke="#0a0a0a" stroke-width="1.8"/>
<rect x="1173.1" y="494.4" width="8.2" height="6.6" fill="#9a9a9a" stroke="#0a0a0a" stroke-width="1.8"/>
<rect x="1391.4" y="425.9" width="8.2" height="6.6" fill="#1e2070" stroke="#0a0a0a" stroke-width="1.8"/>
<rect x="1374.9" y="456.5" width="8.2" height="6.6" fill="#1e2070" stroke="#0a0a0a" stroke-width="1.8"/>
<rect x="1399.2" y="467.2" width="8.2" height="6.6" fill="#1e2070" stroke="#0a0a0a" stroke-width="1.8"/>
<rect x="1414.8" y="470.6" width="8.2" height="6.6" fill="#1e2070" stroke="#0a0a0a" stroke-width="1.8"/>
<rect x="1418.2" y="475.7" width="8.2" height="6.6" fill="#1e2070" stroke="#0a0a0a" stroke-width="1.8"/>
<rect x="1404.6" y="491.0" width="8.2" height="6.6" fill="#1e2070" stroke="#0a0a0a" stroke-width="1.8"/>
<rect x="1404.6" y="499.5" width="8.2" height="6.6" fill="#1e2070" stroke="#0a0a0a" stroke-width="1.8"/>
<rect x="1421.9" y="491.8" width="8.2" height="6.6" fill="#1e2070" stroke="#0a0a0a" stroke-width="1.8"/>
<rect x="1441.1" y="489.3" width="8.2" height="6.6" fill="#1e2070" stroke="#0a0a0a" stroke-width="1.8"/>
<rect x="1446.2" y="502.9" width="8.2" height="6.6" fill="#1e2070" stroke="#0a0a0a" stroke-width="1.8"/>
<rect x="1449.6" y="508.0" width="8.2" height="6.6" fill="#1e2070" stroke="#0a0a0a" stroke-width="1.8"/>
<rect x="1301.0" y="510.8" width="8.2" height="6.6" fill="#1e2070" stroke="#0a0a0a" stroke-width="1.8"/>
<rect x="1411.4" y="518.1" width="8.2" height="6.6" fill="#1e2070" stroke="#0a0a0a" stroke-width="1.8"/>
<rect x="1435.2" y="519.0" width="8.2" height="6.6" fill="#1e2070" stroke="#0a0a0a" stroke-width="1.8"/>
<rect x="1297.6" y="524.9" width="8.2" height="6.6" fill="#1e2070" stroke="#0a0a0a" stroke-width="1.8"/>
<ellipse cx="1454.6" cy="480.7" rx="4.6" ry="3.8" fill="#1e2070" stroke="#0a0a0a" stroke-width="1.4"/>
<ellipse cx="1314.4" cy="501.9" rx="4.6" ry="3.8" fill="#1e2070" stroke="#0a0a0a" stroke-width="1.4"/>
<ellipse cx="1336.5" cy="514.6" rx="4.6" ry="3.8" fill="#1e2070" stroke="#0a0a0a" stroke-width="1.4"/>
<rect x="1443.3" y="517.6" width="8.2" height="6.6" fill="#9a9a9a" stroke="#0a0a0a" stroke-width="1.8"/>
<rect x="1301.1" y="510.8" width="8.2" height="6.6" fill="#1e2070" stroke="#0a0a0a" stroke-width="1.8"/>
<rect x="1297.9" y="527.0" width="8.2" height="6.6" fill="#1e2070" stroke="#0a0a0a" stroke-width="1.8"/>
<rect x="1297.9" y="538.3" width="8.2" height="6.6" fill="#1e2070" stroke="#0a0a0a" stroke-width="1.8"/>
<rect x="1341.7" y="539.2" width="8.2" height="6.6" fill="#1e2070" stroke="#0a0a0a" stroke-width="1.8"/>
<rect x="1315.5" y="569.2" width="8.2" height="6.6" fill="#1e2070" stroke="#0a0a0a" stroke-width="1.8"/>
<rect x="1373.0" y="545.7" width="8.2" height="6.6" fill="#1e2070" stroke="#0a0a0a" stroke-width="1.8"/>
<rect x="1382.8" y="545.7" width="8.2" height="6.6" fill="#1e2070" stroke="#0a0a0a" stroke-width="1.8"/>
<rect x="1384.8" y="550.3" width="8.2" height="6.6" fill="#1e2070" stroke="#0a0a0a" stroke-width="1.8"/>
<rect x="1380.2" y="556.8" width="8.2" height="6.6" fill="#1e2070" stroke="#0a0a0a" stroke-width="1.8"/>
<rect x="1353.4" y="562.7" width="8.2" height="6.6" fill="#1e2070" stroke="#0a0a0a" stroke-width="1.8"/>
<rect x="1374.3" y="573.8" width="8.2" height="6.6" fill="#1e2070" stroke="#0a0a0a" stroke-width="1.8"/>
<rect x="1410.9" y="518.3" width="8.2" height="6.6" fill="#1e2070" stroke="#0a0a0a" stroke-width="1.8"/>
<rect x="1447.5" y="502.6" width="8.2" height="6.6" fill="#1e2070" stroke="#0a0a0a" stroke-width="1.8"/>
<rect x="1448.8" y="507.8" width="8.2" height="6.6" fill="#1e2070" stroke="#0a0a0a" stroke-width="1.8"/>
<rect x="1434.5" y="518.9" width="8.2" height="6.6" fill="#1e2070" stroke="#0a0a0a" stroke-width="1.8"/>
<rect x="1421.4" y="534.6" width="8.2" height="6.6" fill="#1e2070" stroke="#0a0a0a" stroke-width="1.8"/>
<rect x="1426.6" y="550.9" width="8.2" height="6.6" fill="#1e2070" stroke="#0a0a0a" stroke-width="1.8"/>
<rect x="1431.8" y="547.7" width="8.2" height="6.6" fill="#1e2070" stroke="#0a0a0a" stroke-width="1.8"/>
<ellipse cx="1336.6" cy="514.4" rx="4.6" ry="3.8" fill="#1e2070" stroke="#0a0a0a" stroke-width="1.4"/>
<ellipse cx="1330.1" cy="556.2" rx="4.6" ry="3.8" fill="#1e2070" stroke="#0a0a0a" stroke-width="1.4"/>
<ellipse cx="1405.9" cy="547.1" rx="4.6" ry="3.8" fill="#1e2070" stroke="#0a0a0a" stroke-width="1.4"/>
<ellipse cx="1408.5" cy="551.6" rx="4.6" ry="3.8" fill="#1e2070" stroke="#0a0a0a" stroke-width="1.4"/>
<ellipse cx="1409.2" cy="503.3" rx="4.6" ry="3.8" fill="#1e2070" stroke="#0a0a0a" stroke-width="1.4"/>
<rect x="1304.4" y="559.4" width="8.2" height="6.6" fill="#9a9a9a" stroke="#0a0a0a" stroke-width="1.8"/>
<rect x="1337.7" y="549.0" width="8.2" height="6.6" fill="#9a9a9a" stroke="#0a0a0a" stroke-width="1.8"/>
<rect x="1341.7" y="556.8" width="8.2" height="6.6" fill="#9a9a9a" stroke="#0a0a0a" stroke-width="1.8"/>
<rect x="1344.3" y="562.7" width="8.2" height="6.6" fill="#9a9a9a" stroke="#0a0a0a" stroke-width="1.8"/>
<rect x="1338.4" y="569.9" width="8.2" height="6.6" fill="#9a9a9a" stroke="#0a0a0a" stroke-width="1.8"/>
<rect x="1399.2" y="467.1" width="8.2" height="6.6" fill="#1e2070" stroke="#0a0a0a" stroke-width="1.8"/>
<rect x="1414.9" y="471.0" width="8.2" height="6.6" fill="#1e2070" stroke="#0a0a0a" stroke-width="1.8"/>
<rect x="1418.8" y="474.9" width="8.2" height="6.6" fill="#1e2070" stroke="#0a0a0a" stroke-width="1.8"/>
<rect x="1405.1" y="490.6" width="8.2" height="6.6" fill="#1e2070" stroke="#0a0a0a" stroke-width="1.8"/>
<rect x="1405.1" y="498.5" width="8.2" height="6.6" fill="#1e2070" stroke="#0a0a0a" stroke-width="1.8"/>
<rect x="1421.8" y="491.6" width="8.2" height="6.6" fill="#1e2070" stroke="#0a0a0a" stroke-width="1.8"/>
<rect x="1441.4" y="489.6" width="8.2" height="6.6" fill="#1e2070" stroke="#0a0a0a" stroke-width="1.8"/>
<rect x="1446.3" y="502.4" width="8.2" height="6.6" fill="#1e2070" stroke="#0a0a0a" stroke-width="1.8"/>
<rect x="1449.2" y="507.3" width="8.2" height="6.6" fill="#1e2070" stroke="#0a0a0a" stroke-width="1.8"/>
<rect x="1411.0" y="518.1" width="8.2" height="6.6" fill="#1e2070" stroke="#0a0a0a" stroke-width="1.8"/>
<rect x="1435.5" y="519.1" width="8.2" height="6.6" fill="#1e2070" stroke="#0a0a0a" stroke-width="1.8"/>
<rect x="1444.3" y="524.9" width="8.2" height="6.6" fill="#1e2070" stroke="#0a0a0a" stroke-width="1.8"/>
<rect x="1452.2" y="526.9" width="8.2" height="6.6" fill="#1e2070" stroke="#0a0a0a" stroke-width="1.8"/>
<rect x="1439.9" y="529.7" width="8.2" height="6.6" fill="#1e2070" stroke="#0a0a0a" stroke-width="1.8"/>
<rect x="1447.9" y="534.7" width="8.2" height="6.6" fill="#1e2070" stroke="#0a0a0a" stroke-width="1.8"/>
<rect x="1420.8" y="533.8" width="8.2" height="6.6" fill="#1e2070" stroke="#0a0a0a" stroke-width="1.8"/>
<rect x="1430.6" y="533.8" width="8.2" height="6.6" fill="#1e2070" stroke="#0a0a0a" stroke-width="1.8"/>
<rect x="1472.8" y="534.7" width="8.2" height="6.6" fill="#1e2070" stroke="#0a0a0a" stroke-width="1.8"/>
<rect x="1481.6" y="538.7" width="8.2" height="6.6" fill="#1e2070" stroke="#0a0a0a" stroke-width="1.8"/>
<rect x="1426.7" y="548.5" width="8.2" height="6.6" fill="#1e2070" stroke="#0a0a0a" stroke-width="1.8"/>
<rect x="1426.7" y="554.3" width="8.2" height="6.6" fill="#1e2070" stroke="#0a0a0a" stroke-width="1.8"/>
<rect x="1403.2" y="548.5" width="8.2" height="6.6" fill="#1e2070" stroke="#0a0a0a" stroke-width="1.8"/>
<rect x="1377.7" y="545.5" width="8.2" height="6.6" fill="#1e2070" stroke="#0a0a0a" stroke-width="1.8"/>
<rect x="1383.5" y="548.5" width="8.2" height="6.6" fill="#1e2070" stroke="#0a0a0a" stroke-width="1.8"/>
<rect x="1381.6" y="556.3" width="8.2" height="6.6" fill="#1e2070" stroke="#0a0a0a" stroke-width="1.8"/>
<rect x="1454.1" y="546.5" width="8.2" height="6.6" fill="#1e2070" stroke="#0a0a0a" stroke-width="1.8"/>
<rect x="1458.1" y="554.3" width="8.2" height="6.6" fill="#1e2070" stroke="#0a0a0a" stroke-width="1.8"/>
<rect x="1467.9" y="546.5" width="8.2" height="6.6" fill="#1e2070" stroke="#0a0a0a" stroke-width="1.8"/>
<rect x="1475.7" y="548.5" width="8.2" height="6.6" fill="#1e2070" stroke="#0a0a0a" stroke-width="1.8"/>
<rect x="1483.5" y="550.4" width="8.2" height="6.6" fill="#1e2070" stroke="#0a0a0a" stroke-width="1.8"/>
<rect x="1487.5" y="554.3" width="8.2" height="6.6" fill="#1e2070" stroke="#0a0a0a" stroke-width="1.8"/>
<rect x="1443.9" y="541.7" width="8.2" height="6.6" fill="#1e2070" stroke="#0a0a0a" stroke-width="1.8"/>
<rect x="1450.9" y="538.7" width="8.2" height="6.6" fill="#1e2070" stroke="#0a0a0a" stroke-width="1.8"/>
<rect x="1435.9" y="544.7" width="8.2" height="6.6" fill="#1e2070" stroke="#0a0a0a" stroke-width="1.8"/>
<rect x="1437.9" y="552.7" width="8.2" height="6.6" fill="#1e2070" stroke="#0a0a0a" stroke-width="1.8"/>
<rect x="1461.9" y="541.7" width="8.2" height="6.6" fill="#1e2070" stroke="#0a0a0a" stroke-width="1.8"/>
<rect x="1373.7" y="574.0" width="8.2" height="6.6" fill="#1e2070" stroke="#0a0a0a" stroke-width="1.8"/>
<ellipse cx="1454.3" cy="480.2" rx="4.6" ry="3.8" fill="#1e2070" stroke="#0a0a0a" stroke-width="1.4"/>
<ellipse cx="1468.0" cy="536.1" rx="4.6" ry="3.8" fill="#1e2070" stroke="#0a0a0a" stroke-width="1.4"/>
<ellipse cx="1405.3" cy="547.8" rx="4.6" ry="3.8" fill="#1e2070" stroke="#0a0a0a" stroke-width="1.4"/>
<ellipse cx="1465.1" cy="575.6" rx="4.6" ry="3.8" fill="#1e2070" stroke="#0a0a0a" stroke-width="1.4"/>
<ellipse cx="1488.7" cy="575.6" rx="4.6" ry="3.8" fill="#1e2070" stroke="#0a0a0a" stroke-width="1.4"/>
<ellipse cx="1421.1" cy="570.9" rx="4.6" ry="3.8" fill="#1e2070" stroke="#0a0a0a" stroke-width="1.4"/>
<rect x="1462.9" y="575.0" width="8.2" height="6.6" fill="#1e2070" stroke="#0a0a0a" stroke-width="1.8"/>
<ellipse cx="1453.7" cy="567.2" rx="4.6" ry="3.8" fill="#1e2070" stroke="#0a0a0a" stroke-width="1.4"/>
<rect x="1457.4" y="559.9" width="8.2" height="6.6" fill="#1e2070" stroke="#0a0a0a" stroke-width="1.8"/>
<ellipse cx="1439.7" cy="578.6" rx="4.6" ry="3.8" fill="#1e2070" stroke="#0a0a0a" stroke-width="1.4"/>
<rect x="1426.7" y="573.3" width="8.2" height="6.6" fill="#1e2070" stroke="#0a0a0a" stroke-width="1.8"/>
<rect x="1460.6" y="561.9" width="8.2" height="6.6" fill="#1e2070" stroke="#0a0a0a" stroke-width="1.8"/>
<rect x="1479.4" y="563.3" width="8.2" height="6.6" fill="#1e2070" stroke="#0a0a0a" stroke-width="1.8"/>
<rect x="1487.6" y="574.5" width="8.2" height="6.6" fill="#1e2070" stroke="#0a0a0a" stroke-width="1.8"/>
<ellipse cx="1490.1" cy="572.2" rx="4.6" ry="3.8" fill="#1e2070" stroke="#0a0a0a" stroke-width="1.4"/>
<ellipse cx="1434.2" cy="579.0" rx="4.6" ry="3.8" fill="#1e2070" stroke="#0a0a0a" stroke-width="1.4"/>
<rect x="1486.4" y="574.9" width="8.2" height="6.6" fill="#1e2070" stroke="#0a0a0a" stroke-width="1.8"/>
<rect x="1441.6" y="562.5" width="8.2" height="6.6" fill="#1e2070" stroke="#0a0a0a" stroke-width="1.8"/>
<ellipse cx="1423.8" cy="568.1" rx="4.6" ry="3.8" fill="#1e2070" stroke="#0a0a0a" stroke-width="1.4"/>
<rect x="1415.2" y="571.2" width="8.2" height="6.6" fill="#1e2070" stroke="#0a0a0a" stroke-width="1.8"/>
<rect x="1437.8" y="573.6" width="8.2" height="6.6" fill="#1e2070" stroke="#0a0a0a" stroke-width="1.8"/>
<ellipse cx="1442.4" cy="571.2" rx="4.6" ry="3.8" fill="#1e2070" stroke="#0a0a0a" stroke-width="1.4"/>
<rect x="1419.1" y="576.3" width="8.2" height="6.6" fill="#1e2070" stroke="#0a0a0a" stroke-width="1.8"/>
<rect x="1470.4" y="574.1" width="8.2" height="6.6" fill="#1e2070" stroke="#0a0a0a" stroke-width="1.8"/>
<ellipse cx="1477.3" cy="569.2" rx="4.6" ry="3.8" fill="#1e2070" stroke="#0a0a0a" stroke-width="1.4"/>
<rect x="1415.6" y="560.5" width="8.2" height="6.6" fill="#1e2070" stroke="#0a0a0a" stroke-width="1.8"/>
<ellipse cx="1489.7" cy="566.3" rx="4.6" ry="3.8" fill="#1e2070" stroke="#0a0a0a" stroke-width="1.4"/>
<rect x="1483.7" y="575.7" width="8.2" height="6.6" fill="#1e2070" stroke="#0a0a0a" stroke-width="1.8"/>
<ellipse cx="1445.3" cy="571.9" rx="4.6" ry="3.8" fill="#1e2070" stroke="#0a0a0a" stroke-width="1.4"/>
<ellipse cx="1427.0" cy="575.7" rx="4.6" ry="3.8" fill="#1e2070" stroke="#0a0a0a" stroke-width="1.4"/>
<ellipse cx="1482.6" cy="563.6" rx="4.6" ry="3.8" fill="#1e2070" stroke="#0a0a0a" stroke-width="1.4"/>
<ellipse cx="1425.7" cy="568.8" rx="4.6" ry="3.8" fill="#1e2070" stroke="#0a0a0a" stroke-width="1.4"/>
<ellipse cx="1486.9" cy="568.8" rx="4.6" ry="3.8" fill="#1e2070" stroke="#0a0a0a" stroke-width="1.4"/>
<rect x="1455.2" y="565.0" width="8.2" height="6.6" fill="#1e2070" stroke="#0a0a0a" stroke-width="1.8"/>
<rect x="1428.0" y="561.0" width="8.2" height="6.6" fill="#1e2070" stroke="#0a0a0a" stroke-width="1.8"/>
<rect x="1465.9" y="576.6" width="8.2" height="6.6" fill="#1e2070" stroke="#0a0a0a" stroke-width="1.8"/>
<ellipse cx="1422.6" cy="579.8" rx="4.6" ry="3.8" fill="#1e2070" stroke="#0a0a0a" stroke-width="1.4"/>
<ellipse cx="1449.0" cy="567.0" rx="4.6" ry="3.8" fill="#1e2070" stroke="#0a0a0a" stroke-width="1.4"/>
<rect x="1476.0" y="567.4" width="8.2" height="6.6" fill="#1e2070" stroke="#0a0a0a" stroke-width="1.8"/>
<rect x="1419.0" y="575.3" width="8.2" height="6.6" fill="#1e2070" stroke="#0a0a0a" stroke-width="1.8"/>
<rect x="1451.4" y="574.0" width="8.2" height="6.6" fill="#1e2070" stroke="#0a0a0a" stroke-width="1.8"/>
<ellipse cx="1473.1" cy="579.1" rx="4.6" ry="3.8" fill="#1e2070" stroke="#0a0a0a" stroke-width="1.4"/>
<rect x="1473.2" y="561.5" width="8.2" height="6.6" fill="#1e2070" stroke="#0a0a0a" stroke-width="1.8"/>
<rect x="1425.9" y="574.1" width="8.2" height="6.6" fill="#1e2070" stroke="#0a0a0a" stroke-width="1.8"/>
<ellipse cx="1452.5" cy="580.0" rx="4.6" ry="3.8" fill="#1e2070" stroke="#0a0a0a" stroke-width="1.4"/>
<rect x="1487.1" y="567.4" width="8.2" height="6.6" fill="#1e2070" stroke="#0a0a0a" stroke-width="1.8"/>
<rect x="1468.9" y="567.8" width="8.2" height="6.6" fill="#1e2070" stroke="#0a0a0a" stroke-width="1.8"/>
<rect x="1444.8" y="562.2" width="8.2" height="6.6" fill="#1e2070" stroke="#0a0a0a" stroke-width="1.8"/>
<ellipse cx="1492.1" cy="579.3" rx="4.6" ry="3.8" fill="#1e2070" stroke="#0a0a0a" stroke-width="1.4"/>
<rect x="1451.8" y="565.5" width="8.2" height="6.6" fill="#1e2070" stroke="#0a0a0a" stroke-width="1.8"/>
<ellipse cx="1439.2" cy="576.3" rx="4.6" ry="3.8" fill="#1e2070" stroke="#0a0a0a" stroke-width="1.4"/>
<ellipse cx="1445.7" cy="576.4" rx="4.6" ry="3.8" fill="#1e2070" stroke="#0a0a0a" stroke-width="1.4"/>
<ellipse cx="1470.4" cy="574.3" rx="4.6" ry="3.8" fill="#1e2070" stroke="#0a0a0a" stroke-width="1.4"/>
<rect x="1441.8" y="571.7" width="8.2" height="6.6" fill="#1e2070" stroke="#0a0a0a" stroke-width="1.8"/>
<ellipse cx="1454.9" cy="576.1" rx="4.6" ry="3.8" fill="#1e2070" stroke="#0a0a0a" stroke-width="1.4"/>
<ellipse cx="1440.7" cy="579.1" rx="4.6" ry="3.8" fill="#1e2070" stroke="#0a0a0a" stroke-width="1.4"/>
<ellipse cx="1462.0" cy="563.2" rx="4.6" ry="3.8" fill="#1e2070" stroke="#0a0a0a" stroke-width="1.4"/>
<rect x="1433.5" y="571.1" width="8.2" height="6.6" fill="#1e2070" stroke="#0a0a0a" stroke-width="1.8"/>
<ellipse cx="1479.4" cy="574.0" rx="4.6" ry="3.8" fill="#1e2070" stroke="#0a0a0a" stroke-width="1.4"/>
<ellipse cx="1444.7" cy="573.9" rx="4.6" ry="3.8" fill="#1e2070" stroke="#0a0a0a" stroke-width="1.4"/>
<ellipse cx="1480.3" cy="569.0" rx="4.6" ry="3.8" fill="#1e2070" stroke="#0a0a0a" stroke-width="1.4"/>
<ellipse cx="1483.4" cy="574.7" rx="4.6" ry="3.8" fill="#1e2070" stroke="#0a0a0a" stroke-width="1.4"/>
<ellipse cx="1489.8" cy="571.8" rx="4.6" ry="3.8" fill="#1e2070" stroke="#0a0a0a" stroke-width="1.4"/>
<ellipse cx="1431.3" cy="577.2" rx="4.6" ry="3.8" fill="#1e2070" stroke="#0a0a0a" stroke-width="1.4"/>
<ellipse cx="1454.3" cy="574.8" rx="4.6" ry="3.8" fill="#1e2070" stroke="#0a0a0a" stroke-width="1.4"/>
<ellipse cx="1473.0" cy="565.9" rx="4.6" ry="3.8" fill="#1e2070" stroke="#0a0a0a" stroke-width="1.4"/>
<rect x="1457.9" y="571.0" width="8.2" height="6.6" fill="#1e2070" stroke="#0a0a0a" stroke-width="1.8"/>
<ellipse cx="1465.2" cy="576.2" rx="4.6" ry="3.8" fill="#1e2070" stroke="#0a0a0a" stroke-width="1.4"/>
<rect x="1468.2" y="560.2" width="8.2" height="6.6" fill="#1e2070" stroke="#0a0a0a" stroke-width="1.8"/>
<rect x="1447.5" y="570.8" width="8.2" height="6.6" fill="#1e2070" stroke="#0a0a0a" stroke-width="1.8"/>
<rect x="1465.7" y="570.4" width="8.2" height="6.6" fill="#1e2070" stroke="#0a0a0a" stroke-width="1.8"/>
<rect x="1449.8" y="563.5" width="8.2" height="6.6" fill="#1e2070" stroke="#0a0a0a" stroke-width="1.8"/>
<rect x="1424.8" y="565.1" width="8.2" height="6.6" fill="#1e2070" stroke="#0a0a0a" stroke-width="1.8"/>
<rect x="1388.2" y="563.2" width="8.2" height="6.6" fill="#1e2070" stroke="#0a0a0a" stroke-width="1.8"/>
<rect x="1394.1" y="567.6" width="8.2" height="6.6" fill="#1e2070" stroke="#0a0a0a" stroke-width="1.8"/>
<rect x="1397.4" y="570.4" width="8.2" height="6.6" fill="#1e2070" stroke="#0a0a0a" stroke-width="1.8"/>
<rect x="1389.1" y="574.4" width="8.2" height="6.6" fill="#1e2070" stroke="#0a0a0a" stroke-width="1.8"/>
<rect x="1383.9" y="568.0" width="8.2" height="6.6" fill="#1e2070" stroke="#0a0a0a" stroke-width="1.8"/>
<rect x="1390.0" y="568.0" width="8.2" height="6.6" fill="#1e2070" stroke="#0a0a0a" stroke-width="1.8"/>
<rect x="1386.4" y="573.5" width="8.2" height="6.6" fill="#1e2070" stroke="#0a0a0a" stroke-width="1.8"/>
<rect x="1392.1" y="563.2" width="8.2" height="6.6" fill="#1e2070" stroke="#0a0a0a" stroke-width="1.8"/>
<rect x="1397.4" y="563.9" width="8.2" height="6.6" fill="#1e2070" stroke="#0a0a0a" stroke-width="1.8"/>
<rect x="1395.9" y="567.1" width="8.2" height="6.6" fill="#1e2070" stroke="#0a0a0a" stroke-width="1.8"/>
<rect x="1396.7" y="575.2" width="8.2" height="6.6" fill="#1e2070" stroke="#0a0a0a" stroke-width="1.8"/>
<rect x="1401.9" y="568.1" width="8.2" height="6.6" fill="#1e2070" stroke="#0a0a0a" stroke-width="1.8"/>
<rect x="1401.8" y="571.0" width="8.2" height="6.6" fill="#1e2070" stroke="#0a0a0a" stroke-width="1.8"/>
<rect x="1392.0" y="564.5" width="8.2" height="6.6" fill="#1e2070" stroke="#0a0a0a" stroke-width="1.8"/>
<rect x="1397.0" y="570.0" width="8.2" height="6.6" fill="#1e2070" stroke="#0a0a0a" stroke-width="1.8"/>
<rect x="1405.0" y="575.3" width="8.2" height="6.6" fill="#1e2070" stroke="#0a0a0a" stroke-width="1.8"/>
<rect x="1397.3" y="567.3" width="8.2" height="6.6" fill="#1e2070" stroke="#0a0a0a" stroke-width="1.8"/>
<rect x="1403.6" y="562.7" width="8.2" height="6.6" fill="#1e2070" stroke="#0a0a0a" stroke-width="1.8"/>
<ellipse cx="1440.1" cy="548.6" rx="4.6" ry="3.8" fill="#1e2070" stroke="#0a0a0a" stroke-width="1.4"/>
<ellipse cx="1441.3" cy="551.2" rx="4.6" ry="3.8" fill="#1e2070" stroke="#0a0a0a" stroke-width="1.4"/>
<rect x="1446.2" y="540.0" width="8.2" height="6.6" fill="#1e2070" stroke="#0a0a0a" stroke-width="1.8"/>
<rect x="1443.0" y="561.6" width="8.2" height="6.6" fill="#1e2070" stroke="#0a0a0a" stroke-width="1.8"/>
<rect x="1468.4" y="559.2" width="8.2" height="6.6" fill="#1e2070" stroke="#0a0a0a" stroke-width="1.8"/>
<rect x="1441.8" y="561.9" width="8.2" height="6.6" fill="#1e2070" stroke="#0a0a0a" stroke-width="1.8"/>
<ellipse cx="1451.8" cy="538.8" rx="4.6" ry="3.8" fill="#1e2070" stroke="#0a0a0a" stroke-width="1.4"/>
<rect x="1450.6" y="534.2" width="8.2" height="6.6" fill="#1e2070" stroke="#0a0a0a" stroke-width="1.8"/>
<rect x="1436.5" y="547.6" width="8.2" height="6.6" fill="#1e2070" stroke="#0a0a0a" stroke-width="1.8"/>
<ellipse cx="1447.1" cy="557.3" rx="4.6" ry="3.8" fill="#1e2070" stroke="#0a0a0a" stroke-width="1.4"/>
<rect x="1432.4" y="544.0" width="8.2" height="6.6" fill="#1e2070" stroke="#0a0a0a" stroke-width="1.8"/>
<rect x="1467.4" y="554.0" width="8.2" height="6.6" fill="#1e2070" stroke="#0a0a0a" stroke-width="1.8"/>
<ellipse cx="1446.2" cy="532.2" rx="4.6" ry="3.8" fill="#1e2070" stroke="#0a0a0a" stroke-width="1.4"/>
<rect x="1443.0" y="547.0" width="8.2" height="6.6" fill="#1e2070" stroke="#0a0a0a" stroke-width="1.8"/>
<ellipse cx="1460.5" cy="550.2" rx="4.6" ry="3.8" fill="#1e2070" stroke="#0a0a0a" stroke-width="1.4"/>
<rect x="1436.4" y="553.1" width="8.2" height="6.6" fill="#1e2070" stroke="#0a0a0a" stroke-width="1.8"/>
<rect x="1452.2" y="536.1" width="8.2" height="6.6" fill="#1e2070" stroke="#0a0a0a" stroke-width="1.8"/>
<rect x="1452.0" y="541.3" width="8.2" height="6.6" fill="#1e2070" stroke="#0a0a0a" stroke-width="1.8"/>
<rect x="1460.2" y="546.3" width="8.2" height="6.6" fill="#1e2070" stroke="#0a0a0a" stroke-width="1.8"/>
<ellipse cx="1445.6" cy="544.2" rx="4.6" ry="3.8" fill="#1e2070" stroke="#0a0a0a" stroke-width="1.4"/>
<rect x="1465.6" y="544.5" width="8.2" height="6.6" fill="#1e2070" stroke="#0a0a0a" stroke-width="1.8"/>
<rect x="1461.5" y="539.8" width="8.2" height="6.6" fill="#1e2070" stroke="#0a0a0a" stroke-width="1.8"/>
<rect x="1458.8" y="548.0" width="8.2" height="6.6" fill="#1e2070" stroke="#0a0a0a" stroke-width="1.8"/>
<rect x="1466.5" y="538.1" width="8.2" height="6.6" fill="#1e2070" stroke="#0a0a0a" stroke-width="1.8"/>
<rect x="1464.3" y="530.6" width="8.2" height="6.6" fill="#1e2070" stroke="#0a0a0a" stroke-width="1.8"/>
<ellipse cx="1467.5" cy="528.6" rx="4.6" ry="3.8" fill="#1e2070" stroke="#0a0a0a" stroke-width="1.4"/>
<rect x="1458.3" y="540.0" width="8.2" height="6.6" fill="#1e2070" stroke="#0a0a0a" stroke-width="1.8"/>
<rect x="1461.6" y="559.1" width="8.2" height="6.6" fill="#1e2070" stroke="#0a0a0a" stroke-width="1.8"/>
<rect x="1450.1" y="544.7" width="8.2" height="6.6" fill="#1e2070" stroke="#0a0a0a" stroke-width="1.8"/>
<rect x="1444.5" y="528.8" width="8.2" height="6.6" fill="#1e2070" stroke="#0a0a0a" stroke-width="1.8"/>
<rect x="1462.7" y="525.4" width="8.2" height="6.6" fill="#1e2070" stroke="#0a0a0a" stroke-width="1.8"/>
<ellipse cx="1467.1" cy="557.7" rx="4.6" ry="3.8" fill="#1e2070" stroke="#0a0a0a" stroke-width="1.4"/>
<ellipse cx="1437.0" cy="554.9" rx="4.6" ry="3.8" fill="#1e2070" stroke="#0a0a0a" stroke-width="1.4"/>
<rect x="1469.8" y="550.7" width="8.2" height="6.6" fill="#1e2070" stroke="#0a0a0a" stroke-width="1.8"/>
<ellipse cx="1468.0" cy="534.8" rx="4.6" ry="3.8" fill="#1e2070" stroke="#0a0a0a" stroke-width="1.4"/>
<rect x="1468.1" y="551.2" width="8.2" height="6.6" fill="#1e2070" stroke="#0a0a0a" stroke-width="1.8"/>
<rect x="1443.0" y="559.4" width="8.2" height="6.6" fill="#1e2070" stroke="#0a0a0a" stroke-width="1.8"/>
<rect x="1455.1" y="539.3" width="8.2" height="6.6" fill="#1e2070" stroke="#0a0a0a" stroke-width="1.8"/>
<rect x="1455.6" y="524.4" width="8.2" height="6.6" fill="#1e2070" stroke="#0a0a0a" stroke-width="1.8"/>
<rect x="1446.3" y="525.6" width="8.2" height="6.6" fill="#1e2070" stroke="#0a0a0a" stroke-width="1.8"/>
<rect x="1480.3" y="556.0" width="8.2" height="6.6" fill="#1e2070" stroke="#0a0a0a" stroke-width="1.8"/>
<rect x="1485.7" y="540.2" width="8.2" height="6.6" fill="#1e2070" stroke="#0a0a0a" stroke-width="1.8"/>
<rect x="1477.7" y="544.9" width="8.2" height="6.6" fill="#1e2070" stroke="#0a0a0a" stroke-width="1.8"/>
<rect x="1480.7" y="549.4" width="8.2" height="6.6" fill="#1e2070" stroke="#0a0a0a" stroke-width="1.8"/>
<rect x="1486.8" y="546.4" width="8.2" height="6.6" fill="#1e2070" stroke="#0a0a0a" stroke-width="1.8"/>
<rect x="1470.9" y="554.8" width="8.2" height="6.6" fill="#1e2070" stroke="#0a0a0a" stroke-width="1.8"/>
<rect x="1472.6" y="553.1" width="8.2" height="6.6" fill="#1e2070" stroke="#0a0a0a" stroke-width="1.8"/>
<rect x="1479.0" y="560.4" width="8.2" height="6.6" fill="#1e2070" stroke="#0a0a0a" stroke-width="1.8"/>
<rect x="1479.9" y="552.8" width="8.2" height="6.6" fill="#1e2070" stroke="#0a0a0a" stroke-width="1.8"/>
<rect x="1474.6" y="551.0" width="8.2" height="6.6" fill="#1e2070" stroke="#0a0a0a" stroke-width="1.8"/>
<rect x="1474.5" y="556.2" width="8.2" height="6.6" fill="#1e2070" stroke="#0a0a0a" stroke-width="1.8"/>
<rect x="1479.2" y="540.2" width="8.2" height="6.6" fill="#1e2070" stroke="#0a0a0a" stroke-width="1.8"/>
<rect x="1474.1" y="546.4" width="8.2" height="6.6" fill="#1e2070" stroke="#0a0a0a" stroke-width="1.8"/>
<rect x="1483.2" y="541.4" width="8.2" height="6.6" fill="#1e2070" stroke="#0a0a0a" stroke-width="1.8"/>
<rect x="1482.7" y="553.7" width="8.2" height="6.6" fill="#1e2070" stroke="#0a0a0a" stroke-width="1.8"/>
<rect x="1471.4" y="554.1" width="8.2" height="6.6" fill="#1e2070" stroke="#0a0a0a" stroke-width="1.8"/>
<rect x="1471.5" y="539.9" width="8.2" height="6.6" fill="#1e2070" stroke="#0a0a0a" stroke-width="1.8"/>
<rect x="1480.6" y="542.9" width="8.2" height="6.6" fill="#1e2070" stroke="#0a0a0a" stroke-width="1.8"/>
<rect x="1485.7" y="549.2" width="8.2" height="6.6" fill="#1e2070" stroke="#0a0a0a" stroke-width="1.8"/>
<rect x="1475.7" y="557.4" width="8.2" height="6.6" fill="#1e2070" stroke="#0a0a0a" stroke-width="1.8"/>
<rect x="1443.4" y="517.1" width="8.2" height="6.6" fill="#9a9a9a" stroke="#0a0a0a" stroke-width="1.8"/>
<rect x="1443.4" y="545.5" width="8.2" height="6.6" fill="#9a9a9a" stroke="#0a0a0a" stroke-width="1.8"/>
<rect x="1344.2" y="367.9" width="8.2" height="6.6" fill="#1e2070" stroke="#0a0a0a" stroke-width="1.8"/>
<rect x="1339.9" y="393.7" width="8.2" height="6.6" fill="#1e2070" stroke="#0a0a0a" stroke-width="1.8"/>
<ellipse cx="1029.0" cy="509.0" rx="4.6" ry="3.8" fill="#b4eaf8" stroke="#0a0a0a" stroke-width="1.4"/>
<rect x="1344.0" y="344.6" width="8.2" height="6.6" fill="#b4eaf8" stroke="#0a0a0a" stroke-width="1.8"/>
<rect x="1312.9" y="387.4" width="8.2" height="6.6" fill="#b4eaf8" stroke="#0a0a0a" stroke-width="1.8"/>
<rect x="1306.9" y="397.6" width="8.2" height="6.6" fill="#b4eaf8" stroke="#0a0a0a" stroke-width="1.8"/>
<rect x="1315.4" y="398.7" width="8.2" height="6.6" fill="#b4eaf8" stroke="#0a0a0a" stroke-width="1.8"/>
<rect x="1360.4" y="378.6" width="8.2" height="6.6" fill="#b4eaf8" stroke="#0a0a0a" stroke-width="1.8"/>
<rect x="1359.6" y="384.6" width="8.2" height="6.6" fill="#b4eaf8" stroke="#0a0a0a" stroke-width="1.8"/>
<rect x="1355.3" y="389.7" width="8.2" height="6.6" fill="#b4eaf8" stroke="#0a0a0a" stroke-width="1.8"/>
<rect x="1352.0" y="397.3" width="8.2" height="6.6" fill="#b4eaf8" stroke="#0a0a0a" stroke-width="1.8"/>
<rect x="1335.8" y="392.2" width="8.2" height="6.6" fill="#b4eaf8" stroke="#0a0a0a" stroke-width="1.8"/>
<rect x="1342.6" y="380.3" width="8.2" height="6.6" fill="#b4eaf8" stroke="#0a0a0a" stroke-width="1.8"/>
<rect x="1346.0" y="393.9" width="8.2" height="6.6" fill="#b4eaf8" stroke="#0a0a0a" stroke-width="1.8"/>
<rect x="1327.3" y="404.1" width="8.2" height="6.6" fill="#b4eaf8" stroke="#0a0a0a" stroke-width="1.8"/>
<rect x="1259.7" y="358.2" width="8.2" height="6.6" fill="#b4eaf8" stroke="#0a0a0a" stroke-width="1.8"/>
<rect x="1293.7" y="370.1" width="8.2" height="6.6" fill="#b4eaf8" stroke="#0a0a0a" stroke-width="1.8"/>
<rect x="1295.4" y="374.4" width="8.2" height="6.6" fill="#b4eaf8" stroke="#0a0a0a" stroke-width="1.8"/>
<rect x="1298.8" y="376.9" width="8.2" height="6.6" fill="#b4eaf8" stroke="#0a0a0a" stroke-width="1.8"/>
<rect x="1296.2" y="385.4" width="8.2" height="6.6" fill="#b4eaf8" stroke="#0a0a0a" stroke-width="1.8"/>
<rect x="1295.4" y="390.5" width="8.2" height="6.6" fill="#b4eaf8" stroke="#0a0a0a" stroke-width="1.8"/>
<rect x="1304.7" y="395.6" width="8.2" height="6.6" fill="#b4eaf8" stroke="#0a0a0a" stroke-width="1.8"/>
<rect x="1306.9" y="398.4" width="8.2" height="6.6" fill="#b4eaf8" stroke="#0a0a0a" stroke-width="1.8"/>
<rect x="1314.6" y="399.2" width="8.2" height="6.6" fill="#b4eaf8" stroke="#0a0a0a" stroke-width="1.8"/>
<rect x="1297.6" y="407.7" width="8.2" height="6.6" fill="#b4eaf8" stroke="#0a0a0a" stroke-width="1.8"/>
<rect x="1306.9" y="407.7" width="8.2" height="6.6" fill="#b4eaf8" stroke="#0a0a0a" stroke-width="1.8"/>
<rect x="1318.0" y="406.0" width="8.2" height="6.6" fill="#b4eaf8" stroke="#0a0a0a" stroke-width="1.8"/>
<rect x="1328.2" y="406.0" width="8.2" height="6.6" fill="#b4eaf8" stroke="#0a0a0a" stroke-width="1.8"/>
<rect x="1352.0" y="398.4" width="8.2" height="6.6" fill="#b4eaf8" stroke="#0a0a0a" stroke-width="1.8"/>
<rect x="1318.0" y="417.9" width="8.2" height="6.6" fill="#b4eaf8" stroke="#0a0a0a" stroke-width="1.8"/>
<rect x="1326.5" y="418.8" width="8.2" height="6.6" fill="#b4eaf8" stroke="#0a0a0a" stroke-width="1.8"/>
<rect x="1330.7" y="423.9" width="8.2" height="6.6" fill="#b4eaf8" stroke="#0a0a0a" stroke-width="1.8"/>
<rect x="1337.5" y="424.7" width="8.2" height="6.6" fill="#b4eaf8" stroke="#0a0a0a" stroke-width="1.8"/>
<rect x="1324.8" y="428.1" width="8.2" height="6.6" fill="#b4eaf8" stroke="#0a0a0a" stroke-width="1.8"/>
<rect x="1361.3" y="436.1" width="8.2" height="6.6" fill="#b4eaf8" stroke="#0a0a0a" stroke-width="1.8"/>
<rect x="1368.9" y="436.1" width="8.2" height="6.6" fill="#b4eaf8" stroke="#0a0a0a" stroke-width="1.8"/>
<rect x="1365.5" y="445.1" width="8.2" height="6.6" fill="#b4eaf8" stroke="#0a0a0a" stroke-width="1.8"/>
<rect x="1361.3" y="448.5" width="8.2" height="6.6" fill="#b4eaf8" stroke="#0a0a0a" stroke-width="1.8"/>
<rect x="1379.1" y="444.6" width="8.2" height="6.6" fill="#b4eaf8" stroke="#0a0a0a" stroke-width="1.8"/>
<rect x="1375.7" y="450.2" width="8.2" height="6.6" fill="#b4eaf8" stroke="#0a0a0a" stroke-width="1.8"/>
<rect x="1385.9" y="441.2" width="8.2" height="6.6" fill="#b4eaf8" stroke="#0a0a0a" stroke-width="1.8"/>
<rect x="1368.9" y="470.6" width="8.2" height="6.6" fill="#b4eaf8" stroke="#0a0a0a" stroke-width="1.8"/>
<rect x="1360.4" y="479.1" width="8.2" height="6.6" fill="#b4eaf8" stroke="#0a0a0a" stroke-width="1.8"/>
<rect x="1422.9" y="463.8" width="8.2" height="6.6" fill="#b4eaf8" stroke="#0a0a0a" stroke-width="1.8"/>
<ellipse cx="1371.3" cy="463.2" rx="4.6" ry="3.8" fill="#b4eaf8" stroke="#0a0a0a" stroke-width="1.4"/>
<rect x="1296.2" y="408.2" width="8.2" height="6.6" fill="#b4eaf8" stroke="#0a0a0a" stroke-width="1.8"/>
<rect x="1304.7" y="399.2" width="8.2" height="6.6" fill="#b4eaf8" stroke="#0a0a0a" stroke-width="1.8"/>
<rect x="1304.7" y="407.7" width="8.2" height="6.6" fill="#b4eaf8" stroke="#0a0a0a" stroke-width="1.8"/>
<rect x="1152.4" y="518.1" width="8.2" height="6.6" fill="#b4eaf8" stroke="#0a0a0a" stroke-width="1.8"/>
<rect x="1060.1" y="486.7" width="8.2" height="6.6" fill="#b4eaf8" stroke="#0a0a0a" stroke-width="1.8"/>
<rect x="1094.4" y="490.1" width="8.2" height="6.6" fill="#b4eaf8" stroke="#0a0a0a" stroke-width="1.8"/>
<rect x="1121.6" y="492.2" width="8.2" height="6.6" fill="#b4eaf8" stroke="#0a0a0a" stroke-width="1.8"/>
<rect x="1034.1" y="499.5" width="8.2" height="6.6" fill="#b4eaf8" stroke="#0a0a0a" stroke-width="1.8"/>
<rect x="1029.9" y="494.4" width="8.2" height="6.6" fill="#b4eaf8" stroke="#0a0a0a" stroke-width="1.8"/>
<rect x="1018.0" y="519.8" width="8.2" height="6.6" fill="#b4eaf8" stroke="#0a0a0a" stroke-width="1.8"/>
<rect x="1023.1" y="508.8" width="8.2" height="6.6" fill="#b4eaf8" stroke="#0a0a0a" stroke-width="1.8"/>
<rect x="1027.3" y="510.5" width="8.2" height="6.6" fill="#b4eaf8" stroke="#0a0a0a" stroke-width="1.8"/>
<rect x="1151.3" y="517.6" width="8.2" height="6.6" fill="#b4eaf8" stroke="#0a0a0a" stroke-width="1.8"/>
<ellipse cx="1123.1" cy="453.5" rx="4.6" ry="3.8" fill="#b4eaf8" stroke="#0a0a0a" stroke-width="1.4"/>
<ellipse cx="1138.9" cy="501.9" rx="4.6" ry="3.8" fill="#b4eaf8" stroke="#0a0a0a" stroke-width="1.4"/>
<rect x="1060.0" y="486.9" width="8.2" height="6.6" fill="#b4eaf8" stroke="#0a0a0a" stroke-width="1.8"/>
<rect x="1030.8" y="494.2" width="8.2" height="6.6" fill="#b4eaf8" stroke="#0a0a0a" stroke-width="1.8"/>
<rect x="1033.9" y="499.4" width="8.2" height="6.6" fill="#b4eaf8" stroke="#0a0a0a" stroke-width="1.8"/>
<rect x="1027.6" y="508.8" width="8.2" height="6.6" fill="#b4eaf8" stroke="#0a0a0a" stroke-width="1.8"/>
<rect x="1018.2" y="520.3" width="8.2" height="6.6" fill="#b4eaf8" stroke="#0a0a0a" stroke-width="1.8"/>
<rect x="1152.3" y="518.1" width="8.2" height="6.6" fill="#b4eaf8" stroke="#0a0a0a" stroke-width="1.8"/>
<rect x="1423.2" y="464.1" width="8.2" height="6.6" fill="#b4eaf8" stroke="#0a0a0a" stroke-width="1.8"/>
<rect x="1152.2" y="518.3" width="8.2" height="6.6" fill="#b4eaf8" stroke="#0a0a0a" stroke-width="1.8"/>
<rect x="1216.4" y="332.8" width="8.2" height="6.6" fill="#62d93a" stroke="#0a0a0a" stroke-width="1.8"/>
<rect x="1223.2" y="332.8" width="8.2" height="6.6" fill="#62d93a" stroke="#0a0a0a" stroke-width="1.8"/>
<rect x="1228.3" y="334.4" width="8.2" height="6.6" fill="#62d93a" stroke="#0a0a0a" stroke-width="1.8"/>
<rect x="1215.5" y="338.7" width="8.2" height="6.6" fill="#62d93a" stroke="#0a0a0a" stroke-width="1.8"/>
<rect x="1222.3" y="339.5" width="8.2" height="6.6" fill="#62d93a" stroke="#0a0a0a" stroke-width="1.8"/>
<rect x="1231.7" y="337.0" width="8.2" height="6.6" fill="#62d93a" stroke="#0a0a0a" stroke-width="1.8"/>
<rect x="1232.5" y="342.9" width="8.2" height="6.6" fill="#62d93a" stroke="#0a0a0a" stroke-width="1.8"/>
<rect x="1247.8" y="345.5" width="8.2" height="6.6" fill="#62d93a" stroke="#0a0a0a" stroke-width="1.8"/>
<rect x="1258.9" y="338.7" width="8.2" height="6.6" fill="#62d93a" stroke="#0a0a0a" stroke-width="1.8"/>
<rect x="1267.3" y="340.9" width="8.2" height="6.6" fill="#62d93a" stroke="#0a0a0a" stroke-width="1.8"/>
<rect x="1256.3" y="346.3" width="8.2" height="6.6" fill="#62d93a" stroke="#0a0a0a" stroke-width="1.8"/>
<rect x="1282.6" y="342.1" width="8.2" height="6.6" fill="#62d93a" stroke="#0a0a0a" stroke-width="1.8"/>
<rect x="1290.3" y="332.8" width="8.2" height="6.6" fill="#62d93a" stroke="#0a0a0a" stroke-width="1.8"/>
<rect x="1291.1" y="340.4" width="8.2" height="6.6" fill="#62d93a" stroke="#0a0a0a" stroke-width="1.8"/>
<rect x="1288.6" y="347.2" width="8.2" height="6.6" fill="#62d93a" stroke="#0a0a0a" stroke-width="1.8"/>
<rect x="1202.8" y="349.7" width="8.2" height="6.6" fill="#62d93a" stroke="#0a0a0a" stroke-width="1.8"/>
<rect x="1214.7" y="349.7" width="8.2" height="6.6" fill="#62d93a" stroke="#0a0a0a" stroke-width="1.8"/>
<rect x="1227.4" y="349.7" width="8.2" height="6.6" fill="#62d93a" stroke="#0a0a0a" stroke-width="1.8"/>
<rect x="1221.5" y="352.3" width="8.2" height="6.6" fill="#62d93a" stroke="#0a0a0a" stroke-width="1.8"/>
<rect x="1203.6" y="354.8" width="8.2" height="6.6" fill="#62d93a" stroke="#0a0a0a" stroke-width="1.8"/>
<rect x="1204.5" y="360.8" width="8.2" height="6.6" fill="#62d93a" stroke="#0a0a0a" stroke-width="1.8"/>
<rect x="1215.5" y="359.9" width="8.2" height="6.6" fill="#62d93a" stroke="#0a0a0a" stroke-width="1.8"/>
<rect x="1229.1" y="356.5" width="8.2" height="6.6" fill="#62d93a" stroke="#0a0a0a" stroke-width="1.8"/>
<rect x="1225.7" y="363.3" width="8.2" height="6.6" fill="#62d93a" stroke="#0a0a0a" stroke-width="1.8"/>
<rect x="1182.4" y="354.0" width="8.2" height="6.6" fill="#62d93a" stroke="#0a0a0a" stroke-width="1.8"/>
<rect x="1185.8" y="359.9" width="8.2" height="6.6" fill="#62d93a" stroke="#0a0a0a" stroke-width="1.8"/>
<rect x="1193.5" y="359.9" width="8.2" height="6.6" fill="#62d93a" stroke="#0a0a0a" stroke-width="1.8"/>
<rect x="1184.1" y="366.7" width="8.2" height="6.6" fill="#62d93a" stroke="#0a0a0a" stroke-width="1.8"/>
<rect x="1213.8" y="367.6" width="8.2" height="6.6" fill="#62d93a" stroke="#0a0a0a" stroke-width="1.8"/>
<rect x="1234.2" y="365.0" width="8.2" height="6.6" fill="#62d93a" stroke="#0a0a0a" stroke-width="1.8"/>
<rect x="1239.3" y="367.6" width="8.2" height="6.6" fill="#62d93a" stroke="#0a0a0a" stroke-width="1.8"/>
<rect x="1245.3" y="360.8" width="8.2" height="6.6" fill="#62d93a" stroke="#0a0a0a" stroke-width="1.8"/>
<rect x="1247.0" y="369.3" width="8.2" height="6.6" fill="#62d93a" stroke="#0a0a0a" stroke-width="1.8"/>
<rect x="1255.5" y="365.0" width="8.2" height="6.6" fill="#62d93a" stroke="#0a0a0a" stroke-width="1.8"/>
<rect x="1263.1" y="365.9" width="8.2" height="6.6" fill="#62d93a" stroke="#0a0a0a" stroke-width="1.8"/>
<rect x="1271.6" y="367.6" width="8.2" height="6.6" fill="#62d93a" stroke="#0a0a0a" stroke-width="1.8"/>
<rect x="1275.0" y="369.3" width="8.2" height="6.6" fill="#62d93a" stroke="#0a0a0a" stroke-width="1.8"/>
<rect x="1271.6" y="372.7" width="8.2" height="6.6" fill="#62d93a" stroke="#0a0a0a" stroke-width="1.8"/>
<rect x="1281.8" y="356.5" width="8.2" height="6.6" fill="#62d93a" stroke="#0a0a0a" stroke-width="1.8"/>
<rect x="1283.5" y="361.6" width="8.2" height="6.6" fill="#62d93a" stroke="#0a0a0a" stroke-width="1.8"/>
<rect x="1291.1" y="354.0" width="8.2" height="6.6" fill="#62d93a" stroke="#0a0a0a" stroke-width="1.8"/>
<rect x="1201.1" y="372.7" width="8.2" height="6.6" fill="#62d93a" stroke="#0a0a0a" stroke-width="1.8"/>
<rect x="1202.0" y="379.5" width="8.2" height="6.6" fill="#62d93a" stroke="#0a0a0a" stroke-width="1.8"/>
<rect x="1198.6" y="384.6" width="8.2" height="6.6" fill="#62d93a" stroke="#0a0a0a" stroke-width="1.8"/>
<rect x="1199.4" y="388.8" width="8.2" height="6.6" fill="#62d93a" stroke="#0a0a0a" stroke-width="1.8"/>
<rect x="1295.4" y="363.3" width="8.2" height="6.6" fill="#62d93a" stroke="#0a0a0a" stroke-width="1.8"/>
<rect x="1302.2" y="365.0" width="8.2" height="6.6" fill="#62d93a" stroke="#0a0a0a" stroke-width="1.8"/>
<rect x="1300.5" y="382.9" width="8.2" height="6.6" fill="#62d93a" stroke="#0a0a0a" stroke-width="1.8"/>
<ellipse cx="1277.4" cy="353.0" rx="4.6" ry="3.8" fill="#62d93a" stroke="#0a0a0a" stroke-width="1.4"/>
<ellipse cx="1246.8" cy="344.5" rx="4.6" ry="3.8" fill="#62d93a" stroke="#0a0a0a" stroke-width="1.4"/>
<rect x="1357.9" y="356.2" width="8.2" height="6.6" fill="#62d93a" stroke="#0a0a0a" stroke-width="1.8"/>
<rect x="1302.7" y="365.0" width="8.2" height="6.6" fill="#62d93a" stroke="#0a0a0a" stroke-width="1.8"/>
<rect x="1296.7" y="363.3" width="8.2" height="6.6" fill="#62d93a" stroke="#0a0a0a" stroke-width="1.8"/>
<rect x="1301.0" y="382.9" width="8.2" height="6.6" fill="#62d93a" stroke="#0a0a0a" stroke-width="1.8"/>
<rect x="1332.4" y="374.4" width="8.2" height="6.6" fill="#62d93a" stroke="#0a0a0a" stroke-width="1.8"/>
<rect x="1345.2" y="372.7" width="8.2" height="6.6" fill="#62d93a" stroke="#0a0a0a" stroke-width="1.8"/>
<rect x="1355.3" y="371.8" width="8.2" height="6.6" fill="#62d93a" stroke="#0a0a0a" stroke-width="1.8"/>
<rect x="1335.8" y="386.3" width="8.2" height="6.6" fill="#62d93a" stroke="#0a0a0a" stroke-width="1.8"/>
<rect x="1343.5" y="402.4" width="8.2" height="6.6" fill="#62d93a" stroke="#0a0a0a" stroke-width="1.8"/>
<rect x="1324.8" y="404.9" width="8.2" height="6.6" fill="#62d93a" stroke="#0a0a0a" stroke-width="1.8"/>
<rect x="1343.1" y="403.2" width="8.2" height="6.6" fill="#62d93a" stroke="#0a0a0a" stroke-width="1.8"/>
<rect x="1324.4" y="407.2" width="8.2" height="6.6" fill="#62d93a" stroke="#0a0a0a" stroke-width="1.8"/>
<rect x="1387.6" y="436.6" width="8.2" height="6.6" fill="#62d93a" stroke="#0a0a0a" stroke-width="1.8"/>
<rect x="1177.8" y="408.9" width="8.2" height="6.6" fill="#62d93a" stroke="#0a0a0a" stroke-width="1.8"/>
<rect x="1198.2" y="407.7" width="8.2" height="6.6" fill="#62d93a" stroke="#0a0a0a" stroke-width="1.8"/>
<rect x="1177.8" y="420.1" width="8.2" height="6.6" fill="#62d93a" stroke="#0a0a0a" stroke-width="1.8"/>
<rect x="1072.3" y="399.8" width="8.2" height="6.6" fill="#62d93a" stroke="#0a0a0a" stroke-width="1.8"/>
<rect x="1076.6" y="406.6" width="8.2" height="6.6" fill="#62d93a" stroke="#0a0a0a" stroke-width="1.8"/>
<rect x="1066.4" y="412.0" width="8.2" height="6.6" fill="#62d93a" stroke="#0a0a0a" stroke-width="1.8"/>
<rect x="1063.0" y="416.2" width="8.2" height="6.6" fill="#62d93a" stroke="#0a0a0a" stroke-width="1.8"/>
<rect x="1070.6" y="422.2" width="8.2" height="6.6" fill="#62d93a" stroke="#0a0a0a" stroke-width="1.8"/>
<rect x="1052.0" y="460.4" width="8.2" height="6.6" fill="#62d93a" stroke="#0a0a0a" stroke-width="1.8"/>
<rect x="1059.6" y="459.9" width="8.2" height="6.6" fill="#62d93a" stroke="#0a0a0a" stroke-width="1.8"/>
<rect x="1059.1" y="467.2" width="8.2" height="6.6" fill="#62d93a" stroke="#0a0a0a" stroke-width="1.8"/>
<rect x="1040.9" y="493.2" width="8.2" height="6.6" fill="#62d93a" stroke="#0a0a0a" stroke-width="1.8"/>
<rect x="1050.3" y="509.1" width="8.2" height="6.6" fill="#62d93a" stroke="#0a0a0a" stroke-width="1.8"/>
<rect x="1036.7" y="507.1" width="8.2" height="6.6" fill="#62d93a" stroke="#0a0a0a" stroke-width="1.8"/>
<ellipse cx="1054.4" cy="498.2" rx="4.6" ry="3.8" fill="#62d93a" stroke="#0a0a0a" stroke-width="1.4"/>
<rect x="1073.2" y="399.3" width="8.2" height="6.6" fill="#62d93a" stroke="#0a0a0a" stroke-width="1.8"/>
<rect x="1076.6" y="404.9" width="8.2" height="6.6" fill="#62d93a" stroke="#0a0a0a" stroke-width="1.8"/>
<rect x="1051.7" y="459.7" width="8.2" height="6.6" fill="#62d93a" stroke="#0a0a0a" stroke-width="1.8"/>
<rect x="1060.0" y="458.7" width="8.2" height="6.6" fill="#62d93a" stroke="#0a0a0a" stroke-width="1.8"/>
<rect x="1059.0" y="467.7" width="8.2" height="6.6" fill="#62d93a" stroke="#0a0a0a" stroke-width="1.8"/>
<rect x="1041.2" y="493.1" width="8.2" height="6.6" fill="#62d93a" stroke="#0a0a0a" stroke-width="1.8"/>
<rect x="1050.6" y="509.4" width="8.2" height="6.6" fill="#62d93a" stroke="#0a0a0a" stroke-width="1.8"/>
<ellipse cx="1054.7" cy="498.1" rx="4.6" ry="3.8" fill="#62d93a" stroke="#0a0a0a" stroke-width="1.4"/>
<rect x="1036.9" y="508.7" width="8.2" height="6.6" fill="#2a2a2a" stroke="#0a0a0a" stroke-width="1.8"/>
<rect x="1041.9" y="510.7" width="8.2" height="6.6" fill="#2a2a2a" stroke="#0a0a0a" stroke-width="1.8"/>
<rect x="1045.9" y="512.7" width="8.2" height="6.6" fill="#2a2a2a" stroke="#0a0a0a" stroke-width="1.8"/>
<rect x="1039.9" y="514.7" width="8.2" height="6.6" fill="#2a2a2a" stroke="#0a0a0a" stroke-width="1.8"/>
<rect x="1044.9" y="507.7" width="8.2" height="6.6" fill="#2a2a2a" stroke="#0a0a0a" stroke-width="1.8"/>
<rect x="1050.6" y="509.4" width="8.2" height="6.6" fill="#62d93a" stroke="#0a0a0a" stroke-width="1.8"/>
<rect x="1090.2" y="376.9" width="8.2" height="6.6" fill="#f9c21e" stroke="#0a0a0a" stroke-width="1.8"/>
<rect x="1101.2" y="374.9" width="8.2" height="6.6" fill="#f9c21e" stroke="#0a0a0a" stroke-width="1.8"/>
<rect x="1104.6" y="382.0" width="8.2" height="6.6" fill="#f9c21e" stroke="#0a0a0a" stroke-width="1.8"/>
<rect x="1100.4" y="380.3" width="8.2" height="6.6" fill="#f9c21e" stroke="#0a0a0a" stroke-width="1.8"/>
<rect x="1113.1" y="384.6" width="8.2" height="6.6" fill="#f9c21e" stroke="#0a0a0a" stroke-width="1.8"/>
<rect x="1120.7" y="383.7" width="8.2" height="6.6" fill="#f9c21e" stroke="#0a0a0a" stroke-width="1.8"/>
<rect x="1130.1" y="384.6" width="8.2" height="6.6" fill="#f9c21e" stroke="#0a0a0a" stroke-width="1.8"/>
<rect x="1132.6" y="375.2" width="8.2" height="6.6" fill="#f9c21e" stroke="#0a0a0a" stroke-width="1.8"/>
<rect x="1140.3" y="376.9" width="8.2" height="6.6" fill="#f9c21e" stroke="#0a0a0a" stroke-width="1.8"/>
<rect x="1124.1" y="393.0" width="8.2" height="6.6" fill="#f9c21e" stroke="#0a0a0a" stroke-width="1.8"/>
<rect x="1084.2" y="389.1" width="8.2" height="6.6" fill="#f9c21e" stroke="#0a0a0a" stroke-width="1.8"/>
<rect x="1053.6" y="403.2" width="8.2" height="6.6" fill="#f9c21e" stroke="#0a0a0a" stroke-width="1.8"/>
<rect x="1152.2" y="378.6" width="8.2" height="6.6" fill="#f9c21e" stroke="#0a0a0a" stroke-width="1.8"/>
<rect x="1153.0" y="405.8" width="8.2" height="6.6" fill="#f9c21e" stroke="#0a0a0a" stroke-width="1.8"/>
<ellipse cx="1117.2" cy="383.6" rx="4.6" ry="3.8" fill="#f9c21e" stroke="#0a0a0a" stroke-width="1.4"/>
<rect x="1199.9" y="331.9" width="8.2" height="6.6" fill="#f9c21e" stroke="#0a0a0a" stroke-width="1.8"/>
<rect x="1154.4" y="379.5" width="8.2" height="6.6" fill="#f9c21e" stroke="#0a0a0a" stroke-width="1.8"/>
<rect x="1160.3" y="376.1" width="8.2" height="6.6" fill="#f9c21e" stroke="#0a0a0a" stroke-width="1.8"/>
<rect x="1164.6" y="381.2" width="8.2" height="6.6" fill="#f9c21e" stroke="#0a0a0a" stroke-width="1.8"/>
<rect x="1156.1" y="383.7" width="8.2" height="6.6" fill="#f9c21e" stroke="#0a0a0a" stroke-width="1.8"/>
<rect x="1162.9" y="382.9" width="8.2" height="6.6" fill="#f9c21e" stroke="#0a0a0a" stroke-width="1.8"/>
<rect x="1174.8" y="378.3" width="8.2" height="6.6" fill="#f9c21e" stroke="#0a0a0a" stroke-width="1.8"/>
<ellipse cx="1239.2" cy="316.5" rx="4.6" ry="3.8" fill="#f9c21e" stroke="#0a0a0a" stroke-width="1.4"/>
<rect x="1053.6" y="403.8" width="8.2" height="6.6" fill="#f9c21e" stroke="#0a0a0a" stroke-width="1.8"/>
<rect x="1053.3" y="413.3" width="8.2" height="6.6" fill="#f9c21e" stroke="#0a0a0a" stroke-width="1.8"/>
<rect x="1050.6" y="451.1" width="8.2" height="6.6" fill="#f9c21e" stroke="#0a0a0a" stroke-width="1.8"/>
<rect x="1047.4" y="470.6" width="8.2" height="6.6" fill="#f9c21e" stroke="#0a0a0a" stroke-width="1.8"/>
<rect x="1152.2" y="407.7" width="8.2" height="6.6" fill="#f9c21e" stroke="#0a0a0a" stroke-width="1.8"/>
<ellipse cx="1055.7" cy="446.2" rx="4.6" ry="3.8" fill="#f9c21e" stroke="#0a0a0a" stroke-width="1.4"/>
<rect x="1153.5" y="408.2" width="8.2" height="6.6" fill="#f9c21e" stroke="#0a0a0a" stroke-width="1.8"/>
<rect x="1050.6" y="451.3" width="8.2" height="6.6" fill="#f9c21e" stroke="#0a0a0a" stroke-width="1.8"/>
<rect x="1047.5" y="470.6" width="8.2" height="6.6" fill="#f9c21e" stroke="#0a0a0a" stroke-width="1.8"/>
<ellipse cx="1055.8" cy="446.7" rx="4.6" ry="3.8" fill="#f9c21e" stroke="#0a0a0a" stroke-width="1.4"/>
<ellipse cx="1093.4" cy="316.5" rx="4.6" ry="3.8" fill="#f41c1c" stroke="#0a0a0a" stroke-width="1.4"/>
<ellipse cx="1079.5" cy="372.6" rx="4.6" ry="3.8" fill="#f41c1c" stroke="#0a0a0a" stroke-width="1.4"/>
<ellipse cx="1152.5" cy="354.7" rx="4.6" ry="3.8" fill="#f41c1c" stroke="#0a0a0a" stroke-width="1.4"/>
<rect x="1095.3" y="313.2" width="8.2" height="6.6" fill="#f41c1c" stroke="#0a0a0a" stroke-width="1.8"/>
<rect x="1113.9" y="313.7" width="8.2" height="6.6" fill="#f41c1c" stroke="#0a0a0a" stroke-width="1.8"/>
<rect x="1108.3" y="322.2" width="8.2" height="6.6" fill="#f41c1c" stroke="#0a0a0a" stroke-width="1.8"/>
<rect x="1090.2" y="325.6" width="8.2" height="6.6" fill="#f41c1c" stroke="#0a0a0a" stroke-width="1.8"/>
<rect x="1084.6" y="329.7" width="8.2" height="6.6" fill="#f41c1c" stroke="#0a0a0a" stroke-width="1.8"/>
<rect x="1132.3" y="317.5" width="8.2" height="6.6" fill="#f41c1c" stroke="#0a0a0a" stroke-width="1.8"/>
<rect x="1125.0" y="331.9" width="8.2" height="6.6" fill="#f41c1c" stroke="#0a0a0a" stroke-width="1.8"/>
<rect x="1125.8" y="338.7" width="8.2" height="6.6" fill="#f41c1c" stroke="#0a0a0a" stroke-width="1.8"/>
<rect x="1130.1" y="335.3" width="8.2" height="6.6" fill="#f41c1c" stroke="#0a0a0a" stroke-width="1.8"/>
<rect x="1136.0" y="332.8" width="8.2" height="6.6" fill="#f41c1c" stroke="#0a0a0a" stroke-width="1.8"/>
<rect x="1142.0" y="333.6" width="8.2" height="6.6" fill="#f41c1c" stroke="#0a0a0a" stroke-width="1.8"/>
<rect x="1147.9" y="333.6" width="8.2" height="6.6" fill="#f41c1c" stroke="#0a0a0a" stroke-width="1.8"/>
<rect x="1154.7" y="334.4" width="8.2" height="6.6" fill="#f41c1c" stroke="#0a0a0a" stroke-width="1.8"/>
<rect x="1067.2" y="349.7" width="8.2" height="6.6" fill="#f41c1c" stroke="#0a0a0a" stroke-width="1.8"/>
<rect x="1078.3" y="354.8" width="8.2" height="6.6" fill="#f41c1c" stroke="#0a0a0a" stroke-width="1.8"/>
<rect x="1071.5" y="356.5" width="8.2" height="6.6" fill="#f41c1c" stroke="#0a0a0a" stroke-width="1.8"/>
<rect x="1071.5" y="362.5" width="8.2" height="6.6" fill="#f41c1c" stroke="#0a0a0a" stroke-width="1.8"/>
<rect x="1177.3" y="325.6" width="8.2" height="6.6" fill="#f41c1c" stroke="#0a0a0a" stroke-width="1.8"/>
<rect x="1148.4" y="333.6" width="8.2" height="6.6" fill="#f41c1c" stroke="#0a0a0a" stroke-width="1.8"/>
<rect x="1154.4" y="334.4" width="8.2" height="6.6" fill="#f41c1c" stroke="#0a0a0a" stroke-width="1.8"/>
<rect x="1160.3" y="332.8" width="8.2" height="6.6" fill="#f41c1c" stroke="#0a0a0a" stroke-width="1.8"/>
<rect x="1164.6" y="334.4" width="8.2" height="6.6" fill="#f41c1c" stroke="#0a0a0a" stroke-width="1.8"/>
<rect x="1171.0" y="335.8" width="8.2" height="6.6" fill="#f41c1c" stroke="#0a0a0a" stroke-width="1.8"/>
<rect x="1176.1" y="365.0" width="8.2" height="6.6" fill="#f41c1c" stroke="#0a0a0a" stroke-width="1.8"/>
<rect x="1158.4" y="309.3" width="8.2" height="6.6" fill="#f41c1c" stroke="#0a0a0a" stroke-width="1.8"/>
<rect x="1159.1" y="296.9" width="8.2" height="6.6" fill="#7a4cc4" stroke="#0a0a0a" stroke-width="1.8"/>
</svg>
</body></html>
